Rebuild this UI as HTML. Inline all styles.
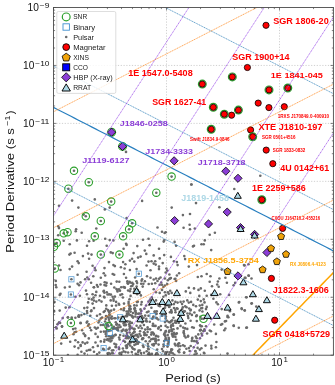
<!DOCTYPE html>
<html><head><meta charset="utf-8"><style>
html,body{margin:0;padding:0;background:#fff;overflow:hidden}
svg{display:block;will-change:transform}
text{font-family:"Liberation Sans", sans-serif}
</style></head><body>
<svg width="335" height="385" viewBox="0 0 335 385">
<defs><clipPath id="ax"><rect x="53.5" y="7.5" width="279.90" height="347.70"/></clipPath></defs>
<rect x="0" y="0" width="335" height="385" fill="#fff"/>
<g clip-path="url(#ax)">
<path d="M166.50,7.5 L166.50,355.2 M279.50,7.5 L279.50,355.2 M53.5,65.45 L333.4,65.45 M53.5,123.40 L333.4,123.40 M53.5,181.35 L333.4,181.35 M53.5,239.30 L333.4,239.30 M53.5,297.25 L333.4,297.25" stroke="#b0b0b0" stroke-width="0.6" stroke-dasharray="1.2 1.6" fill="none"/>
<g fill="#6a6a6a">
<circle cx="88.8" cy="182.2" r="1.3"/>
<circle cx="68.4" cy="188.7" r="1.3"/>
<circle cx="85.8" cy="216.3" r="1.3"/>
<circle cx="100.8" cy="221.0" r="1.3"/>
<circle cx="72.1" cy="200.6" r="1.3"/>
<circle cx="94.8" cy="199.4" r="1.3"/>
<circle cx="59.0" cy="205.7" r="1.3"/>
<circle cx="78.4" cy="207.6" r="1.3"/>
<circle cx="83.6" cy="214.6" r="1.3"/>
<circle cx="58.2" cy="226.3" r="1.3"/>
<circle cx="59.0" cy="228.1" r="1.3"/>
<circle cx="76.1" cy="229.3" r="1.3"/>
<circle cx="96.3" cy="228.5" r="1.3"/>
<circle cx="111.2" cy="201.6" r="1.3"/>
<circle cx="132.1" cy="223.3" r="1.3"/>
<circle cx="129.1" cy="229.3" r="1.3"/>
<circle cx="109.7" cy="207.6" r="1.3"/>
<circle cx="104.8" cy="209.4" r="1.3"/>
<circle cx="142.1" cy="200.9" r="1.3"/>
<circle cx="126.6" cy="218.1" r="1.3"/>
<circle cx="156.3" cy="192.7" r="1.3"/>
<circle cx="191.5" cy="184.5" r="1.3"/>
<circle cx="196.0" cy="203.1" r="1.3"/>
<circle cx="171.7" cy="207.6" r="1.3"/>
<circle cx="182.9" cy="215.1" r="1.3"/>
<circle cx="190.0" cy="214.0" r="1.3"/>
<circle cx="157.5" cy="227.5" r="1.3"/>
<circle cx="183.6" cy="227.8" r="1.3"/>
<circle cx="189.6" cy="224.8" r="1.3"/>
<circle cx="190.0" cy="229.3" r="1.3"/>
<circle cx="194.8" cy="228.5" r="1.3"/>
<circle cx="234.3" cy="189.0" r="1.3"/>
<circle cx="219.4" cy="207.2" r="1.3"/>
<circle cx="63.7" cy="233.3" r="1.3"/>
<circle cx="67.5" cy="232.2" r="1.3"/>
<circle cx="94.8" cy="236.3" r="1.3"/>
<circle cx="56.7" cy="243.1" r="1.3"/>
<circle cx="100.8" cy="254.6" r="1.3"/>
<circle cx="54.8" cy="268.5" r="1.3"/>
<circle cx="71.4" cy="279.3" r="1.3"/>
<circle cx="75.7" cy="231.2" r="1.3"/>
<circle cx="81.7" cy="232.7" r="1.3"/>
<circle cx="58.2" cy="235.2" r="1.3"/>
<circle cx="63.7" cy="240.7" r="1.3"/>
<circle cx="69.7" cy="244.2" r="1.3"/>
<circle cx="76.9" cy="240.4" r="1.3"/>
<circle cx="89.1" cy="241.2" r="1.3"/>
<circle cx="93.6" cy="240.7" r="1.3"/>
<circle cx="87.0" cy="245.7" r="1.3"/>
<circle cx="54.8" cy="244.2" r="1.3"/>
<circle cx="70.6" cy="253.6" r="1.3"/>
<circle cx="69.4" cy="254.6" r="1.3"/>
<circle cx="74.6" cy="252.7" r="1.3"/>
<circle cx="88.1" cy="253.6" r="1.3"/>
<circle cx="91.5" cy="254.6" r="1.3"/>
<circle cx="82.9" cy="256.1" r="1.3"/>
<circle cx="89.1" cy="258.7" r="1.3"/>
<circle cx="77.6" cy="261.3" r="1.3"/>
<circle cx="78.7" cy="263.1" r="1.3"/>
<circle cx="72.1" cy="266.6" r="1.3"/>
<circle cx="59.0" cy="265.5" r="1.3"/>
<circle cx="60.5" cy="270.0" r="1.3"/>
<circle cx="69.7" cy="269.1" r="1.3"/>
<circle cx="92.6" cy="265.8" r="1.3"/>
<circle cx="94.8" cy="268.1" r="1.3"/>
<circle cx="95.5" cy="270.3" r="1.3"/>
<circle cx="86.6" cy="271.8" r="1.3"/>
<circle cx="77.6" cy="274.8" r="1.3"/>
<circle cx="87.3" cy="277.5" r="1.3"/>
<circle cx="93.3" cy="276.3" r="1.3"/>
<circle cx="100.8" cy="277.8" r="1.3"/>
<circle cx="85.1" cy="279.3" r="1.3"/>
<circle cx="88.8" cy="279.3" r="1.3"/>
<circle cx="123.1" cy="236.3" r="1.3"/>
<circle cx="119.4" cy="254.6" r="1.3"/>
<circle cx="138.8" cy="273.7" r="1.3"/>
<circle cx="105.2" cy="238.7" r="1.3"/>
<circle cx="109.7" cy="240.1" r="1.3"/>
<circle cx="113.4" cy="240.4" r="1.3"/>
<circle cx="126.1" cy="243.7" r="1.3"/>
<circle cx="126.6" cy="244.9" r="1.3"/>
<circle cx="143.0" cy="239.7" r="1.3"/>
<circle cx="148.5" cy="238.7" r="1.3"/>
<circle cx="106.7" cy="245.7" r="1.3"/>
<circle cx="123.6" cy="248.7" r="1.3"/>
<circle cx="137.3" cy="246.1" r="1.3"/>
<circle cx="149.6" cy="245.2" r="1.3"/>
<circle cx="144.8" cy="250.6" r="1.3"/>
<circle cx="110.8" cy="252.4" r="1.3"/>
<circle cx="112.7" cy="253.1" r="1.3"/>
<circle cx="133.6" cy="253.1" r="1.3"/>
<circle cx="146.3" cy="253.9" r="1.3"/>
<circle cx="140.6" cy="256.6" r="1.3"/>
<circle cx="138.1" cy="257.6" r="1.3"/>
<circle cx="132.1" cy="258.7" r="1.3"/>
<circle cx="129.9" cy="260.6" r="1.3"/>
<circle cx="134.3" cy="261.6" r="1.3"/>
<circle cx="109.0" cy="262.1" r="1.3"/>
<circle cx="123.1" cy="262.1" r="1.3"/>
<circle cx="125.4" cy="264.3" r="1.3"/>
<circle cx="148.5" cy="261.6" r="1.3"/>
<circle cx="151.5" cy="261.3" r="1.3"/>
<circle cx="113.4" cy="265.1" r="1.3"/>
<circle cx="114.9" cy="266.1" r="1.3"/>
<circle cx="120.9" cy="267.3" r="1.3"/>
<circle cx="124.6" cy="268.5" r="1.3"/>
<circle cx="104.5" cy="268.1" r="1.3"/>
<circle cx="129.9" cy="270.0" r="1.3"/>
<circle cx="136.6" cy="269.1" r="1.3"/>
<circle cx="146.6" cy="265.5" r="1.3"/>
<circle cx="150.5" cy="270.3" r="1.3"/>
<circle cx="103.7" cy="273.3" r="1.3"/>
<circle cx="105.2" cy="275.5" r="1.3"/>
<circle cx="112.7" cy="274.0" r="1.3"/>
<circle cx="114.2" cy="274.8" r="1.3"/>
<circle cx="123.9" cy="274.0" r="1.3"/>
<circle cx="126.1" cy="277.8" r="1.3"/>
<circle cx="135.1" cy="277.5" r="1.3"/>
<circle cx="147.0" cy="276.3" r="1.3"/>
<circle cx="150.5" cy="277.8" r="1.3"/>
<circle cx="142.1" cy="279.3" r="1.3"/>
<circle cx="162.0" cy="231.8" r="1.3"/>
<circle cx="165.7" cy="232.2" r="1.3"/>
<circle cx="164.6" cy="233.0" r="1.3"/>
<circle cx="164.2" cy="240.4" r="1.3"/>
<circle cx="163.7" cy="241.6" r="1.3"/>
<circle cx="174.6" cy="241.9" r="1.3"/>
<circle cx="176.1" cy="245.7" r="1.3"/>
<circle cx="159.0" cy="248.7" r="1.3"/>
<circle cx="194.0" cy="245.7" r="1.3"/>
<circle cx="193.0" cy="246.4" r="1.3"/>
<circle cx="201.5" cy="244.2" r="1.3"/>
<circle cx="153.7" cy="255.4" r="1.3"/>
<circle cx="164.2" cy="255.1" r="1.3"/>
<circle cx="170.9" cy="256.9" r="1.3"/>
<circle cx="184.3" cy="256.1" r="1.3"/>
<circle cx="185.1" cy="259.1" r="1.3"/>
<circle cx="159.7" cy="258.4" r="1.3"/>
<circle cx="173.9" cy="261.3" r="1.3"/>
<circle cx="176.9" cy="262.1" r="1.3"/>
<circle cx="177.6" cy="265.1" r="1.3"/>
<circle cx="155.2" cy="261.3" r="1.3"/>
<circle cx="153.7" cy="263.6" r="1.3"/>
<circle cx="155.7" cy="264.6" r="1.3"/>
<circle cx="159.0" cy="266.6" r="1.3"/>
<circle cx="162.7" cy="263.1" r="1.3"/>
<circle cx="159.0" cy="269.1" r="1.3"/>
<circle cx="166.4" cy="268.5" r="1.3"/>
<circle cx="167.2" cy="270.6" r="1.3"/>
<circle cx="165.7" cy="272.5" r="1.3"/>
<circle cx="169.4" cy="274.5" r="1.3"/>
<circle cx="179.1" cy="273.3" r="1.3"/>
<circle cx="176.9" cy="275.5" r="1.3"/>
<circle cx="156.0" cy="278.5" r="1.3"/>
<circle cx="160.5" cy="277.5" r="1.3"/>
<circle cx="164.9" cy="278.5" r="1.3"/>
<circle cx="170.2" cy="278.5" r="1.3"/>
<circle cx="174.6" cy="279.0" r="1.3"/>
<circle cx="188.8" cy="266.6" r="1.3"/>
<circle cx="197.0" cy="265.1" r="1.3"/>
<circle cx="197.8" cy="277.0" r="1.3"/>
<circle cx="201.5" cy="276.3" r="1.3"/>
<circle cx="209.7" cy="234.8" r="1.3"/>
<circle cx="214.9" cy="232.7" r="1.3"/>
<circle cx="204.8" cy="240.4" r="1.3"/>
<circle cx="203.7" cy="244.2" r="1.3"/>
<circle cx="211.2" cy="250.1" r="1.3"/>
<circle cx="221.7" cy="269.6" r="1.3"/>
<circle cx="244.0" cy="265.1" r="1.3"/>
<circle cx="248.5" cy="264.3" r="1.3"/>
<circle cx="206.7" cy="274.0" r="1.3"/>
<circle cx="210.5" cy="276.3" r="1.3"/>
<circle cx="225.4" cy="277.8" r="1.3"/>
<circle cx="219.4" cy="278.5" r="1.3"/>
<circle cx="244.8" cy="277.8" r="1.3"/>
<circle cx="248.5" cy="275.5" r="1.3"/>
<circle cx="251.5" cy="278.5" r="1.3"/>
<circle cx="70.9" cy="323.0" r="1.3"/>
<circle cx="70.9" cy="294.5" r="1.3"/>
<circle cx="56.3" cy="287.2" r="1.3"/>
<circle cx="64.9" cy="287.5" r="1.3"/>
<circle cx="69.7" cy="286.7" r="1.3"/>
<circle cx="77.6" cy="283.7" r="1.3"/>
<circle cx="79.1" cy="285.2" r="1.3"/>
<circle cx="91.1" cy="282.7" r="1.3"/>
<circle cx="94.0" cy="287.2" r="1.3"/>
<circle cx="97.8" cy="286.7" r="1.3"/>
<circle cx="100.5" cy="284.5" r="1.3"/>
<circle cx="60.5" cy="293.7" r="1.3"/>
<circle cx="59.7" cy="294.9" r="1.3"/>
<circle cx="79.9" cy="295.7" r="1.3"/>
<circle cx="75.4" cy="296.7" r="1.3"/>
<circle cx="87.0" cy="294.2" r="1.3"/>
<circle cx="92.6" cy="294.2" r="1.3"/>
<circle cx="96.3" cy="291.9" r="1.3"/>
<circle cx="95.5" cy="295.2" r="1.3"/>
<circle cx="100.0" cy="295.7" r="1.3"/>
<circle cx="54.5" cy="302.1" r="1.3"/>
<circle cx="88.8" cy="298.7" r="1.3"/>
<circle cx="91.8" cy="299.4" r="1.3"/>
<circle cx="93.6" cy="297.6" r="1.3"/>
<circle cx="88.1" cy="302.4" r="1.3"/>
<circle cx="92.6" cy="303.6" r="1.3"/>
<circle cx="96.3" cy="301.6" r="1.3"/>
<circle cx="101.5" cy="301.6" r="1.3"/>
<circle cx="65.7" cy="307.6" r="1.3"/>
<circle cx="69.4" cy="307.2" r="1.3"/>
<circle cx="59.7" cy="310.6" r="1.3"/>
<circle cx="54.2" cy="311.3" r="1.3"/>
<circle cx="84.3" cy="308.1" r="1.3"/>
<circle cx="87.3" cy="307.6" r="1.3"/>
<circle cx="87.0" cy="311.0" r="1.3"/>
<circle cx="91.1" cy="311.3" r="1.3"/>
<circle cx="94.0" cy="308.1" r="1.3"/>
<circle cx="81.4" cy="315.1" r="1.3"/>
<circle cx="78.4" cy="316.6" r="1.3"/>
<circle cx="84.3" cy="314.0" r="1.3"/>
<circle cx="90.3" cy="315.8" r="1.3"/>
<circle cx="97.0" cy="315.8" r="1.3"/>
<circle cx="100.0" cy="314.3" r="1.3"/>
<circle cx="67.9" cy="317.3" r="1.3"/>
<circle cx="71.7" cy="318.8" r="1.3"/>
<circle cx="62.7" cy="318.1" r="1.3"/>
<circle cx="59.0" cy="322.5" r="1.3"/>
<circle cx="62.0" cy="326.6" r="1.3"/>
<circle cx="56.7" cy="328.5" r="1.3"/>
<circle cx="80.6" cy="323.3" r="1.3"/>
<circle cx="87.3" cy="321.5" r="1.3"/>
<circle cx="98.5" cy="322.5" r="1.3"/>
<circle cx="100.8" cy="318.5" r="1.3"/>
<circle cx="90.0" cy="327.8" r="1.3"/>
<circle cx="94.8" cy="327.5" r="1.3"/>
<circle cx="97.8" cy="327.8" r="1.3"/>
<circle cx="75.4" cy="328.5" r="1.3"/>
<circle cx="126.0" cy="151.9" r="1.3"/>
<circle cx="191.3" cy="184.5" r="1.3"/>
<circle cx="260.3" cy="175.7" r="1.3"/>
<circle cx="74.0" cy="170.8" r="1.3"/>
<circle cx="171.6" cy="176.6" r="1.3"/>
<circle cx="209.7" cy="281.8" r="1.3"/>
<circle cx="217.9" cy="281.5" r="1.3"/>
<circle cx="217.2" cy="284.5" r="1.3"/>
<circle cx="218.7" cy="286.7" r="1.3"/>
<circle cx="212.0" cy="286.3" r="1.3"/>
<circle cx="226.9" cy="282.7" r="1.3"/>
<circle cx="233.6" cy="285.2" r="1.3"/>
<circle cx="204.8" cy="290.7" r="1.3"/>
<circle cx="211.2" cy="294.9" r="1.3"/>
<circle cx="213.4" cy="298.7" r="1.3"/>
<circle cx="206.7" cy="295.7" r="1.3"/>
<circle cx="203.7" cy="299.4" r="1.3"/>
<circle cx="220.2" cy="294.2" r="1.3"/>
<circle cx="229.1" cy="294.9" r="1.3"/>
<circle cx="246.3" cy="297.2" r="1.3"/>
<circle cx="204.5" cy="302.4" r="1.3"/>
<circle cx="216.4" cy="302.4" r="1.3"/>
<circle cx="217.9" cy="304.2" r="1.3"/>
<circle cx="238.8" cy="302.4" r="1.3"/>
<circle cx="251.5" cy="303.6" r="1.3"/>
<circle cx="206.7" cy="306.9" r="1.3"/>
<circle cx="206.0" cy="309.1" r="1.3"/>
<circle cx="221.7" cy="309.1" r="1.3"/>
<circle cx="229.9" cy="311.3" r="1.3"/>
<circle cx="241.8" cy="309.1" r="1.3"/>
<circle cx="244.8" cy="310.6" r="1.3"/>
<circle cx="227.6" cy="315.8" r="1.3"/>
<circle cx="228.4" cy="317.3" r="1.3"/>
<circle cx="233.6" cy="314.6" r="1.3"/>
<circle cx="211.2" cy="318.8" r="1.3"/>
<circle cx="214.2" cy="324.5" r="1.3"/>
<circle cx="220.9" cy="324.8" r="1.3"/>
<circle cx="226.1" cy="321.0" r="1.3"/>
<circle cx="225.4" cy="328.5" r="1.3"/>
<circle cx="233.6" cy="325.5" r="1.3"/>
<circle cx="238.8" cy="327.8" r="1.3"/>
<circle cx="246.3" cy="327.8" r="1.3"/>
<circle cx="206.0" cy="326.3" r="1.3"/>
<circle cx="67.9" cy="317.5" r="1.3"/>
<circle cx="71.7" cy="317.5" r="1.3"/>
<circle cx="75.4" cy="317.8" r="1.3"/>
<circle cx="79.1" cy="316.7" r="1.3"/>
<circle cx="59.0" cy="322.7" r="1.3"/>
<circle cx="57.5" cy="324.2" r="1.3"/>
<circle cx="56.0" cy="327.2" r="1.3"/>
<circle cx="62.0" cy="326.4" r="1.3"/>
<circle cx="80.6" cy="322.7" r="1.3"/>
<circle cx="73.1" cy="329.1" r="1.3"/>
<circle cx="76.1" cy="331.7" r="1.3"/>
<circle cx="82.1" cy="330.2" r="1.3"/>
<circle cx="88.1" cy="325.7" r="1.3"/>
<circle cx="91.1" cy="330.2" r="1.3"/>
<circle cx="96.3" cy="328.7" r="1.3"/>
<circle cx="100.8" cy="325.0" r="1.3"/>
<circle cx="83.6" cy="333.6" r="1.3"/>
<circle cx="85.1" cy="336.1" r="1.3"/>
<circle cx="88.8" cy="338.4" r="1.3"/>
<circle cx="97.8" cy="336.9" r="1.3"/>
<circle cx="100.8" cy="331.7" r="1.3"/>
<circle cx="95.5" cy="333.9" r="1.3"/>
<circle cx="70.2" cy="341.7" r="1.3"/>
<circle cx="75.4" cy="340.2" r="1.3"/>
<circle cx="87.3" cy="342.6" r="1.3"/>
<circle cx="100.8" cy="341.4" r="1.3"/>
<circle cx="61.2" cy="343.6" r="1.3"/>
<circle cx="80.6" cy="345.1" r="1.3"/>
<circle cx="85.1" cy="343.6" r="1.3"/>
<circle cx="74.6" cy="346.6" r="1.3"/>
<circle cx="78.4" cy="348.1" r="1.3"/>
<circle cx="93.0" cy="347.3" r="1.3"/>
<circle cx="97.8" cy="345.9" r="1.3"/>
<circle cx="88.8" cy="350.0" r="1.3"/>
<circle cx="81.4" cy="351.8" r="1.3"/>
<circle cx="94.0" cy="351.8" r="1.3"/>
<circle cx="99.3" cy="352.6" r="1.3"/>
<circle cx="77.6" cy="354.8" r="1.3"/>
<circle cx="67.9" cy="355.1" r="1.3"/>
<circle cx="227.5" cy="316.9" r="1.3"/>
<circle cx="222.2" cy="324.1" r="1.3"/>
<circle cx="224.9" cy="321.4" r="1.3"/>
<circle cx="233.8" cy="325.9" r="1.3"/>
<circle cx="246.9" cy="327.6" r="1.3"/>
<circle cx="224.3" cy="330.3" r="1.3"/>
<circle cx="215.9" cy="333.9" r="1.3"/>
<circle cx="216.4" cy="342.0" r="1.3"/>
<circle cx="215.9" cy="347.3" r="1.3"/>
<circle cx="227.5" cy="353.6" r="1.3"/>
<circle cx="244.6" cy="265.4" r="1.3"/>
<circle cx="248.8" cy="275.8" r="1.3"/>
<circle cx="245.5" cy="277.9" r="1.3"/>
<circle cx="235.1" cy="282.9" r="1.3"/>
<circle cx="246.4" cy="297.3" r="1.3"/>
<circle cx="239.3" cy="302.1" r="1.3"/>
<circle cx="251.8" cy="303.3" r="1.3"/>
<circle cx="256.3" cy="306.6" r="1.3"/>
<circle cx="241.6" cy="308.4" r="1.3"/>
<circle cx="244.6" cy="310.2" r="1.3"/>
<circle cx="233.9" cy="314.6" r="1.3"/>
<circle cx="108.4" cy="326.1" r="1.3"/>
<circle cx="203.5" cy="318.8" r="1.3"/>
<circle cx="153.7" cy="279.5" r="1.3"/>
<circle cx="155.2" cy="283.2" r="1.3"/>
<circle cx="157.5" cy="281.0" r="1.3"/>
<circle cx="159.0" cy="278.7" r="1.3"/>
<circle cx="159.7" cy="284.7" r="1.3"/>
<circle cx="161.2" cy="282.5" r="1.3"/>
<circle cx="162.0" cy="284.7" r="1.3"/>
<circle cx="163.4" cy="287.0" r="1.3"/>
<circle cx="164.9" cy="285.5" r="1.3"/>
<circle cx="167.2" cy="284.0" r="1.3"/>
<circle cx="167.9" cy="280.2" r="1.3"/>
<circle cx="169.4" cy="278.7" r="1.3"/>
<circle cx="170.9" cy="278.0" r="1.3"/>
<circle cx="175.4" cy="278.7" r="1.3"/>
<circle cx="176.1" cy="281.0" r="1.3"/>
<circle cx="153.7" cy="289.2" r="1.3"/>
<circle cx="156.0" cy="292.2" r="1.3"/>
<circle cx="159.7" cy="292.9" r="1.3"/>
<circle cx="162.0" cy="289.9" r="1.3"/>
<circle cx="164.9" cy="292.2" r="1.3"/>
<circle cx="167.9" cy="292.2" r="1.3"/>
<circle cx="168.7" cy="293.7" r="1.3"/>
<circle cx="170.2" cy="290.7" r="1.3"/>
<circle cx="171.7" cy="292.9" r="1.3"/>
<circle cx="165.7" cy="295.2" r="1.3"/>
<circle cx="163.4" cy="296.7" r="1.3"/>
<circle cx="188.8" cy="287.7" r="1.3"/>
<circle cx="194.0" cy="288.4" r="1.3"/>
<circle cx="185.8" cy="291.4" r="1.3"/>
<circle cx="198.5" cy="289.9" r="1.3"/>
<circle cx="200.8" cy="288.4" r="1.3"/>
<circle cx="190.3" cy="292.9" r="1.3"/>
<circle cx="199.3" cy="295.9" r="1.3"/>
<circle cx="175.4" cy="301.9" r="1.3"/>
<circle cx="177.6" cy="302.6" r="1.3"/>
<circle cx="180.6" cy="301.9" r="1.3"/>
<circle cx="183.6" cy="301.6" r="1.3"/>
<circle cx="187.3" cy="300.4" r="1.3"/>
<circle cx="188.8" cy="302.6" r="1.3"/>
<circle cx="191.1" cy="301.9" r="1.3"/>
<circle cx="197.8" cy="299.6" r="1.3"/>
<circle cx="200.8" cy="301.1" r="1.3"/>
<circle cx="182.1" cy="304.1" r="1.3"/>
<circle cx="193.3" cy="304.9" r="1.3"/>
<circle cx="202.3" cy="304.9" r="1.3"/>
<circle cx="156.0" cy="300.4" r="1.3"/>
<circle cx="172.4" cy="300.4" r="1.3"/>
<circle cx="173.9" cy="304.1" r="1.3"/>
<circle cx="157.5" cy="304.1" r="1.3"/>
<circle cx="111.1" cy="283.8" r="1.3"/>
<circle cx="119.3" cy="281.8" r="1.3"/>
<circle cx="116.4" cy="289.1" r="1.3"/>
<circle cx="104.4" cy="292.7" r="1.3"/>
<circle cx="103.9" cy="290.8" r="1.3"/>
<circle cx="104.7" cy="282.3" r="1.3"/>
<circle cx="113.6" cy="300.7" r="1.3"/>
<circle cx="106.1" cy="285.6" r="1.3"/>
<circle cx="118.7" cy="303.7" r="1.3"/>
<circle cx="117.4" cy="289.9" r="1.3"/>
<circle cx="127.4" cy="281.2" r="1.3"/>
<circle cx="124.5" cy="287.2" r="1.3"/>
<circle cx="106.6" cy="282.9" r="1.3"/>
<circle cx="110.7" cy="300.4" r="1.3"/>
<circle cx="107.5" cy="294.5" r="1.3"/>
<circle cx="119.0" cy="289.3" r="1.3"/>
<circle cx="116.7" cy="281.6" r="1.3"/>
<circle cx="104.5" cy="285.1" r="1.3"/>
<circle cx="120.0" cy="290.7" r="1.3"/>
<circle cx="110.9" cy="294.6" r="1.3"/>
<circle cx="114.3" cy="287.5" r="1.3"/>
<circle cx="122.9" cy="297.5" r="1.3"/>
<circle cx="109.1" cy="294.4" r="1.3"/>
<circle cx="116.1" cy="301.9" r="1.3"/>
<circle cx="121.2" cy="287.2" r="1.3"/>
<circle cx="127.5" cy="283.0" r="1.3"/>
<circle cx="113.5" cy="298.9" r="1.3"/>
<circle cx="106.8" cy="292.2" r="1.3"/>
<circle cx="104.0" cy="296.7" r="1.3"/>
<circle cx="122.1" cy="294.3" r="1.3"/>
<circle cx="124.9" cy="287.8" r="1.3"/>
<circle cx="120.4" cy="294.9" r="1.3"/>
<circle cx="117.5" cy="291.4" r="1.3"/>
<circle cx="124.0" cy="303.6" r="1.3"/>
<circle cx="114.9" cy="296.6" r="1.3"/>
<circle cx="104.5" cy="297.5" r="1.3"/>
<circle cx="119.2" cy="304.8" r="1.3"/>
<circle cx="123.5" cy="287.1" r="1.3"/>
<circle cx="112.6" cy="296.7" r="1.3"/>
<circle cx="103.6" cy="291.5" r="1.3"/>
<circle cx="132.2" cy="282.9" r="1.3"/>
<circle cx="129.5" cy="299.2" r="1.3"/>
<circle cx="131.2" cy="286.2" r="1.3"/>
<circle cx="137.8" cy="301.8" r="1.3"/>
<circle cx="130.0" cy="291.2" r="1.3"/>
<circle cx="141.7" cy="302.1" r="1.3"/>
<circle cx="148.5" cy="301.6" r="1.3"/>
<circle cx="135.0" cy="290.4" r="1.3"/>
<circle cx="137.0" cy="302.1" r="1.3"/>
<circle cx="151.9" cy="283.8" r="1.3"/>
<circle cx="132.4" cy="285.8" r="1.3"/>
<circle cx="133.8" cy="292.1" r="1.3"/>
<circle cx="142.7" cy="286.6" r="1.3"/>
<circle cx="128.1" cy="290.5" r="1.3"/>
<circle cx="137.2" cy="294.2" r="1.3"/>
<circle cx="151.8" cy="297.3" r="1.3"/>
<circle cx="140.9" cy="295.4" r="1.3"/>
<circle cx="144.9" cy="281.3" r="1.3"/>
<circle cx="150.5" cy="299.5" r="1.3"/>
<circle cx="149.9" cy="299.9" r="1.3"/>
<circle cx="137.8" cy="290.0" r="1.3"/>
<circle cx="130.6" cy="295.9" r="1.3"/>
<circle cx="129.6" cy="281.7" r="1.3"/>
<circle cx="133.2" cy="284.1" r="1.3"/>
<circle cx="136.5" cy="281.3" r="1.3"/>
<circle cx="128.0" cy="283.8" r="1.3"/>
<circle cx="130.5" cy="289.1" r="1.3"/>
<circle cx="128.6" cy="301.9" r="1.3"/>
<circle cx="143.4" cy="283.7" r="1.3"/>
<circle cx="134.3" cy="288.7" r="1.3"/>
<circle cx="137.1" cy="283.1" r="1.3"/>
<circle cx="149.2" cy="304.8" r="1.3"/>
<circle cx="139.6" cy="292.1" r="1.3"/>
<circle cx="130.1" cy="282.6" r="1.3"/>
<circle cx="136.6" cy="286.6" r="1.3"/>
<circle cx="148.7" cy="284.0" r="1.3"/>
<circle cx="128.6" cy="303.8" r="1.3"/>
<circle cx="141.2" cy="283.7" r="1.3"/>
<circle cx="141.6" cy="280.7" r="1.3"/>
<circle cx="141.2" cy="304.5" r="1.3"/>
<circle cx="124.6" cy="322.4" r="1.3"/>
<circle cx="109.5" cy="314.2" r="1.3"/>
<circle cx="107.2" cy="324.3" r="1.3"/>
<circle cx="116.3" cy="324.5" r="1.3"/>
<circle cx="111.2" cy="310.6" r="1.3"/>
<circle cx="123.3" cy="329.6" r="1.3"/>
<circle cx="124.3" cy="325.2" r="1.3"/>
<circle cx="123.5" cy="323.5" r="1.3"/>
<circle cx="108.7" cy="317.9" r="1.3"/>
<circle cx="111.9" cy="305.7" r="1.3"/>
<circle cx="103.7" cy="312.0" r="1.3"/>
<circle cx="109.5" cy="322.3" r="1.3"/>
<circle cx="126.9" cy="316.2" r="1.3"/>
<circle cx="126.4" cy="329.7" r="1.3"/>
<circle cx="126.9" cy="314.1" r="1.3"/>
<circle cx="108.5" cy="310.7" r="1.3"/>
<circle cx="107.9" cy="310.1" r="1.3"/>
<circle cx="118.6" cy="327.5" r="1.3"/>
<circle cx="124.0" cy="317.0" r="1.3"/>
<circle cx="119.3" cy="325.0" r="1.3"/>
<circle cx="105.1" cy="321.5" r="1.3"/>
<circle cx="125.7" cy="324.6" r="1.3"/>
<circle cx="121.8" cy="317.0" r="1.3"/>
<circle cx="107.5" cy="324.7" r="1.3"/>
<circle cx="111.3" cy="325.0" r="1.3"/>
<circle cx="127.3" cy="314.9" r="1.3"/>
<circle cx="113.0" cy="328.7" r="1.3"/>
<circle cx="121.1" cy="309.3" r="1.3"/>
<circle cx="106.2" cy="308.8" r="1.3"/>
<circle cx="125.6" cy="325.2" r="1.3"/>
<circle cx="106.7" cy="325.7" r="1.3"/>
<circle cx="127.5" cy="321.4" r="1.3"/>
<circle cx="111.8" cy="318.7" r="1.3"/>
<circle cx="106.3" cy="305.4" r="1.3"/>
<circle cx="127.3" cy="321.2" r="1.3"/>
<circle cx="116.2" cy="328.3" r="1.3"/>
<circle cx="113.8" cy="326.8" r="1.3"/>
<circle cx="123.7" cy="310.3" r="1.3"/>
<circle cx="109.3" cy="312.3" r="1.3"/>
<circle cx="109.0" cy="319.7" r="1.3"/>
<circle cx="109.5" cy="315.5" r="1.3"/>
<circle cx="106.3" cy="327.8" r="1.3"/>
<circle cx="111.8" cy="316.5" r="1.3"/>
<circle cx="117.6" cy="327.6" r="1.3"/>
<circle cx="113.5" cy="327.9" r="1.3"/>
<circle cx="115.5" cy="318.3" r="1.3"/>
<circle cx="116.1" cy="305.5" r="1.3"/>
<circle cx="114.0" cy="309.6" r="1.3"/>
<circle cx="103.1" cy="325.0" r="1.3"/>
<circle cx="107.3" cy="316.8" r="1.3"/>
<circle cx="121.1" cy="318.9" r="1.3"/>
<circle cx="111.1" cy="318.0" r="1.3"/>
<circle cx="116.9" cy="324.6" r="1.3"/>
<circle cx="105.7" cy="319.0" r="1.3"/>
<circle cx="109.2" cy="311.9" r="1.3"/>
<circle cx="122.3" cy="317.7" r="1.3"/>
<circle cx="117.0" cy="324.0" r="1.3"/>
<circle cx="125.8" cy="316.1" r="1.3"/>
<circle cx="118.3" cy="317.6" r="1.3"/>
<circle cx="115.8" cy="322.3" r="1.3"/>
<circle cx="114.3" cy="318.3" r="1.3"/>
<circle cx="115.0" cy="328.5" r="1.3"/>
<circle cx="120.5" cy="326.9" r="1.3"/>
<circle cx="126.6" cy="311.5" r="1.3"/>
<circle cx="117.0" cy="328.6" r="1.3"/>
<circle cx="124.0" cy="308.4" r="1.3"/>
<circle cx="106.0" cy="316.1" r="1.3"/>
<circle cx="104.8" cy="311.0" r="1.3"/>
<circle cx="129.8" cy="321.7" r="1.3"/>
<circle cx="147.6" cy="327.4" r="1.3"/>
<circle cx="131.9" cy="322.9" r="1.3"/>
<circle cx="144.5" cy="308.6" r="1.3"/>
<circle cx="150.1" cy="329.2" r="1.3"/>
<circle cx="133.5" cy="328.8" r="1.3"/>
<circle cx="138.0" cy="317.2" r="1.3"/>
<circle cx="152.7" cy="325.8" r="1.3"/>
<circle cx="132.0" cy="315.8" r="1.3"/>
<circle cx="140.9" cy="313.5" r="1.3"/>
<circle cx="132.9" cy="313.0" r="1.3"/>
<circle cx="146.1" cy="305.5" r="1.3"/>
<circle cx="141.9" cy="316.0" r="1.3"/>
<circle cx="128.5" cy="313.3" r="1.3"/>
<circle cx="143.6" cy="317.8" r="1.3"/>
<circle cx="129.6" cy="329.6" r="1.3"/>
<circle cx="147.7" cy="329.3" r="1.3"/>
<circle cx="130.6" cy="311.6" r="1.3"/>
<circle cx="129.0" cy="324.5" r="1.3"/>
<circle cx="134.8" cy="308.2" r="1.3"/>
<circle cx="138.6" cy="327.8" r="1.3"/>
<circle cx="148.5" cy="311.5" r="1.3"/>
<circle cx="131.7" cy="328.0" r="1.3"/>
<circle cx="142.3" cy="322.5" r="1.3"/>
<circle cx="130.2" cy="306.4" r="1.3"/>
<circle cx="145.2" cy="315.6" r="1.3"/>
<circle cx="129.8" cy="328.5" r="1.3"/>
<circle cx="143.9" cy="325.0" r="1.3"/>
<circle cx="130.1" cy="326.4" r="1.3"/>
<circle cx="129.7" cy="326.6" r="1.3"/>
<circle cx="139.3" cy="313.5" r="1.3"/>
<circle cx="141.8" cy="328.2" r="1.3"/>
<circle cx="134.7" cy="308.2" r="1.3"/>
<circle cx="141.2" cy="311.0" r="1.3"/>
<circle cx="130.7" cy="309.0" r="1.3"/>
<circle cx="129.3" cy="310.0" r="1.3"/>
<circle cx="135.8" cy="312.6" r="1.3"/>
<circle cx="147.0" cy="312.2" r="1.3"/>
<circle cx="140.5" cy="309.4" r="1.3"/>
<circle cx="136.7" cy="305.5" r="1.3"/>
<circle cx="134.3" cy="305.4" r="1.3"/>
<circle cx="146.3" cy="318.8" r="1.3"/>
<circle cx="132.7" cy="316.9" r="1.3"/>
<circle cx="151.4" cy="307.7" r="1.3"/>
<circle cx="148.5" cy="315.8" r="1.3"/>
<circle cx="140.4" cy="325.9" r="1.3"/>
<circle cx="137.8" cy="317.7" r="1.3"/>
<circle cx="145.2" cy="329.6" r="1.3"/>
<circle cx="136.6" cy="325.8" r="1.3"/>
<circle cx="145.7" cy="320.9" r="1.3"/>
<circle cx="138.1" cy="313.7" r="1.3"/>
<circle cx="129.4" cy="308.2" r="1.3"/>
<circle cx="129.8" cy="323.5" r="1.3"/>
<circle cx="134.4" cy="309.1" r="1.3"/>
<circle cx="130.1" cy="326.0" r="1.3"/>
<circle cx="149.8" cy="321.8" r="1.3"/>
<circle cx="135.0" cy="311.1" r="1.3"/>
<circle cx="135.3" cy="316.5" r="1.3"/>
<circle cx="131.9" cy="316.1" r="1.3"/>
<circle cx="134.6" cy="329.0" r="1.3"/>
<circle cx="152.3" cy="318.7" r="1.3"/>
<circle cx="134.1" cy="329.1" r="1.3"/>
<circle cx="135.7" cy="313.9" r="1.3"/>
<circle cx="128.0" cy="314.5" r="1.3"/>
<circle cx="139.9" cy="317.6" r="1.3"/>
<circle cx="133.0" cy="317.6" r="1.3"/>
<circle cx="128.1" cy="311.6" r="1.3"/>
<circle cx="130.2" cy="315.0" r="1.3"/>
<circle cx="129.0" cy="305.6" r="1.3"/>
<circle cx="135.6" cy="310.8" r="1.3"/>
<circle cx="142.6" cy="318.2" r="1.3"/>
<circle cx="146.8" cy="321.4" r="1.3"/>
<circle cx="170.9" cy="327.0" r="1.3"/>
<circle cx="162.7" cy="313.2" r="1.3"/>
<circle cx="177.6" cy="308.7" r="1.3"/>
<circle cx="171.1" cy="321.1" r="1.3"/>
<circle cx="154.1" cy="325.9" r="1.3"/>
<circle cx="175.3" cy="320.7" r="1.3"/>
<circle cx="171.3" cy="325.3" r="1.3"/>
<circle cx="156.5" cy="318.1" r="1.3"/>
<circle cx="165.6" cy="325.9" r="1.3"/>
<circle cx="173.1" cy="325.7" r="1.3"/>
<circle cx="167.6" cy="327.3" r="1.3"/>
<circle cx="170.1" cy="322.3" r="1.3"/>
<circle cx="158.7" cy="305.8" r="1.3"/>
<circle cx="156.3" cy="314.0" r="1.3"/>
<circle cx="155.6" cy="325.9" r="1.3"/>
<circle cx="167.0" cy="320.7" r="1.3"/>
<circle cx="168.7" cy="322.0" r="1.3"/>
<circle cx="165.2" cy="305.1" r="1.3"/>
<circle cx="172.9" cy="323.7" r="1.3"/>
<circle cx="165.6" cy="318.4" r="1.3"/>
<circle cx="169.5" cy="306.7" r="1.3"/>
<circle cx="171.4" cy="311.3" r="1.3"/>
<circle cx="154.9" cy="311.6" r="1.3"/>
<circle cx="171.2" cy="310.1" r="1.3"/>
<circle cx="171.5" cy="329.4" r="1.3"/>
<circle cx="165.3" cy="314.6" r="1.3"/>
<circle cx="165.0" cy="322.1" r="1.3"/>
<circle cx="172.2" cy="320.4" r="1.3"/>
<circle cx="169.1" cy="306.9" r="1.3"/>
<circle cx="156.7" cy="311.3" r="1.3"/>
<circle cx="171.6" cy="312.6" r="1.3"/>
<circle cx="167.2" cy="305.3" r="1.3"/>
<circle cx="154.5" cy="311.7" r="1.3"/>
<circle cx="169.8" cy="322.3" r="1.3"/>
<circle cx="169.9" cy="312.3" r="1.3"/>
<circle cx="165.9" cy="316.6" r="1.3"/>
<circle cx="164.7" cy="308.0" r="1.3"/>
<circle cx="175.3" cy="310.0" r="1.3"/>
<circle cx="177.5" cy="328.4" r="1.3"/>
<circle cx="153.4" cy="316.5" r="1.3"/>
<circle cx="173.5" cy="329.2" r="1.3"/>
<circle cx="164.2" cy="311.7" r="1.3"/>
<circle cx="158.2" cy="328.6" r="1.3"/>
<circle cx="158.3" cy="319.5" r="1.3"/>
<circle cx="156.5" cy="318.1" r="1.3"/>
<circle cx="176.8" cy="308.3" r="1.3"/>
<circle cx="173.5" cy="317.7" r="1.3"/>
<circle cx="175.2" cy="322.6" r="1.3"/>
<circle cx="158.8" cy="327.4" r="1.3"/>
<circle cx="165.2" cy="305.6" r="1.3"/>
<circle cx="153.1" cy="317.3" r="1.3"/>
<circle cx="164.3" cy="312.5" r="1.3"/>
<circle cx="156.5" cy="313.6" r="1.3"/>
<circle cx="160.9" cy="326.0" r="1.3"/>
<circle cx="153.0" cy="323.8" r="1.3"/>
<circle cx="174.0" cy="308.0" r="1.3"/>
<circle cx="176.2" cy="322.8" r="1.3"/>
<circle cx="175.5" cy="312.2" r="1.3"/>
<circle cx="162.3" cy="314.8" r="1.3"/>
<circle cx="178.0" cy="319.7" r="1.3"/>
<circle cx="162.0" cy="315.7" r="1.3"/>
<circle cx="159.9" cy="306.2" r="1.3"/>
<circle cx="180.5" cy="325.9" r="1.3"/>
<circle cx="185.1" cy="328.4" r="1.3"/>
<circle cx="184.2" cy="311.6" r="1.3"/>
<circle cx="190.8" cy="309.7" r="1.3"/>
<circle cx="187.3" cy="328.9" r="1.3"/>
<circle cx="200.1" cy="325.3" r="1.3"/>
<circle cx="193.8" cy="327.8" r="1.3"/>
<circle cx="201.5" cy="318.7" r="1.3"/>
<circle cx="196.0" cy="306.2" r="1.3"/>
<circle cx="196.3" cy="316.3" r="1.3"/>
<circle cx="196.8" cy="321.1" r="1.3"/>
<circle cx="185.2" cy="306.2" r="1.3"/>
<circle cx="201.2" cy="308.2" r="1.3"/>
<circle cx="189.8" cy="313.6" r="1.3"/>
<circle cx="185.4" cy="323.5" r="1.3"/>
<circle cx="202.4" cy="311.5" r="1.3"/>
<circle cx="194.4" cy="312.5" r="1.3"/>
<circle cx="191.9" cy="314.9" r="1.3"/>
<circle cx="182.2" cy="309.0" r="1.3"/>
<circle cx="183.2" cy="327.6" r="1.3"/>
<circle cx="190.4" cy="310.5" r="1.3"/>
<circle cx="200.7" cy="329.9" r="1.3"/>
<circle cx="189.2" cy="308.5" r="1.3"/>
<circle cx="182.8" cy="307.3" r="1.3"/>
<circle cx="186.5" cy="307.3" r="1.3"/>
<circle cx="184.0" cy="311.5" r="1.3"/>
<circle cx="192.2" cy="327.2" r="1.3"/>
<circle cx="196.7" cy="315.3" r="1.3"/>
<circle cx="188.3" cy="318.1" r="1.3"/>
<circle cx="187.4" cy="313.5" r="1.3"/>
<circle cx="179.6" cy="311.9" r="1.3"/>
<circle cx="202.2" cy="308.1" r="1.3"/>
<circle cx="190.6" cy="320.7" r="1.3"/>
<circle cx="199.6" cy="310.4" r="1.3"/>
<circle cx="184.8" cy="311.2" r="1.3"/>
<circle cx="188.0" cy="316.1" r="1.3"/>
<circle cx="201.8" cy="326.2" r="1.3"/>
<circle cx="199.8" cy="305.5" r="1.3"/>
<circle cx="178.8" cy="322.7" r="1.3"/>
<circle cx="200.4" cy="316.8" r="1.3"/>
<circle cx="117.7" cy="330.0" r="1.3"/>
<circle cx="112.8" cy="353.2" r="1.3"/>
<circle cx="123.6" cy="351.4" r="1.3"/>
<circle cx="127.3" cy="336.2" r="1.3"/>
<circle cx="105.7" cy="333.9" r="1.3"/>
<circle cx="116.1" cy="347.1" r="1.3"/>
<circle cx="126.5" cy="348.0" r="1.3"/>
<circle cx="119.2" cy="349.1" r="1.3"/>
<circle cx="114.4" cy="343.8" r="1.3"/>
<circle cx="104.0" cy="349.6" r="1.3"/>
<circle cx="108.8" cy="353.0" r="1.3"/>
<circle cx="119.1" cy="337.6" r="1.3"/>
<circle cx="106.2" cy="336.3" r="1.3"/>
<circle cx="118.9" cy="347.5" r="1.3"/>
<circle cx="105.8" cy="331.8" r="1.3"/>
<circle cx="116.1" cy="344.6" r="1.3"/>
<circle cx="112.7" cy="335.6" r="1.3"/>
<circle cx="118.0" cy="330.3" r="1.3"/>
<circle cx="110.5" cy="341.5" r="1.3"/>
<circle cx="127.0" cy="346.1" r="1.3"/>
<circle cx="125.1" cy="341.9" r="1.3"/>
<circle cx="108.9" cy="336.2" r="1.3"/>
<circle cx="127.0" cy="347.6" r="1.3"/>
<circle cx="110.7" cy="330.5" r="1.3"/>
<circle cx="115.5" cy="346.9" r="1.3"/>
<circle cx="113.5" cy="336.4" r="1.3"/>
<circle cx="119.7" cy="353.1" r="1.3"/>
<circle cx="108.7" cy="330.9" r="1.3"/>
<circle cx="111.5" cy="340.5" r="1.3"/>
<circle cx="120.1" cy="335.0" r="1.3"/>
<circle cx="122.9" cy="348.5" r="1.3"/>
<circle cx="115.6" cy="335.1" r="1.3"/>
<circle cx="127.2" cy="337.8" r="1.3"/>
<circle cx="123.5" cy="335.8" r="1.3"/>
<circle cx="108.5" cy="349.0" r="1.3"/>
<circle cx="110.4" cy="353.8" r="1.3"/>
<circle cx="115.4" cy="334.7" r="1.3"/>
<circle cx="108.6" cy="340.4" r="1.3"/>
<circle cx="119.6" cy="353.7" r="1.3"/>
<circle cx="106.7" cy="339.8" r="1.3"/>
<circle cx="108.3" cy="354.4" r="1.3"/>
<circle cx="106.5" cy="331.3" r="1.3"/>
<circle cx="104.5" cy="339.8" r="1.3"/>
<circle cx="125.5" cy="352.1" r="1.3"/>
<circle cx="121.3" cy="354.9" r="1.3"/>
<circle cx="126.3" cy="338.2" r="1.3"/>
<circle cx="107.6" cy="353.4" r="1.3"/>
<circle cx="121.7" cy="330.8" r="1.3"/>
<circle cx="119.6" cy="339.5" r="1.3"/>
<circle cx="112.3" cy="338.3" r="1.3"/>
<circle cx="107.2" cy="330.1" r="1.3"/>
<circle cx="110.0" cy="338.8" r="1.3"/>
<circle cx="126.9" cy="333.1" r="1.3"/>
<circle cx="127.1" cy="335.2" r="1.3"/>
<circle cx="111.9" cy="350.5" r="1.3"/>
<circle cx="123.6" cy="340.8" r="1.3"/>
<circle cx="104.2" cy="341.8" r="1.3"/>
<circle cx="112.3" cy="353.0" r="1.3"/>
<circle cx="107.8" cy="339.1" r="1.3"/>
<circle cx="125.4" cy="330.8" r="1.3"/>
<circle cx="113.3" cy="350.3" r="1.3"/>
<circle cx="122.2" cy="331.0" r="1.3"/>
<circle cx="103.9" cy="331.6" r="1.3"/>
<circle cx="126.0" cy="336.4" r="1.3"/>
<circle cx="121.7" cy="352.5" r="1.3"/>
<circle cx="111.5" cy="336.8" r="1.3"/>
<circle cx="126.9" cy="345.4" r="1.3"/>
<circle cx="109.6" cy="347.9" r="1.3"/>
<circle cx="110.9" cy="336.9" r="1.3"/>
<circle cx="103.1" cy="348.9" r="1.3"/>
<circle cx="125.9" cy="345.8" r="1.3"/>
<circle cx="126.6" cy="330.6" r="1.3"/>
<circle cx="133.8" cy="341.9" r="1.3"/>
<circle cx="151.9" cy="353.8" r="1.3"/>
<circle cx="137.7" cy="336.3" r="1.3"/>
<circle cx="138.7" cy="342.3" r="1.3"/>
<circle cx="151.2" cy="334.6" r="1.3"/>
<circle cx="148.1" cy="348.5" r="1.3"/>
<circle cx="148.6" cy="349.3" r="1.3"/>
<circle cx="143.2" cy="338.2" r="1.3"/>
<circle cx="136.0" cy="339.0" r="1.3"/>
<circle cx="147.6" cy="332.0" r="1.3"/>
<circle cx="132.9" cy="348.8" r="1.3"/>
<circle cx="134.2" cy="331.6" r="1.3"/>
<circle cx="128.8" cy="343.8" r="1.3"/>
<circle cx="136.1" cy="354.5" r="1.3"/>
<circle cx="150.1" cy="354.7" r="1.3"/>
<circle cx="134.6" cy="332.1" r="1.3"/>
<circle cx="130.4" cy="342.5" r="1.3"/>
<circle cx="145.7" cy="341.2" r="1.3"/>
<circle cx="133.9" cy="340.4" r="1.3"/>
<circle cx="143.5" cy="346.9" r="1.3"/>
<circle cx="146.7" cy="351.2" r="1.3"/>
<circle cx="144.6" cy="333.0" r="1.3"/>
<circle cx="149.0" cy="337.3" r="1.3"/>
<circle cx="142.2" cy="339.3" r="1.3"/>
<circle cx="146.5" cy="335.0" r="1.3"/>
<circle cx="134.2" cy="336.1" r="1.3"/>
<circle cx="131.8" cy="352.1" r="1.3"/>
<circle cx="142.5" cy="338.2" r="1.3"/>
<circle cx="137.9" cy="354.8" r="1.3"/>
<circle cx="140.7" cy="335.8" r="1.3"/>
<circle cx="148.2" cy="346.3" r="1.3"/>
<circle cx="152.8" cy="332.6" r="1.3"/>
<circle cx="139.9" cy="350.5" r="1.3"/>
<circle cx="149.0" cy="352.9" r="1.3"/>
<circle cx="129.0" cy="337.3" r="1.3"/>
<circle cx="131.0" cy="334.7" r="1.3"/>
<circle cx="152.3" cy="344.6" r="1.3"/>
<circle cx="151.3" cy="339.3" r="1.3"/>
<circle cx="149.7" cy="341.2" r="1.3"/>
<circle cx="134.5" cy="349.4" r="1.3"/>
<circle cx="151.6" cy="332.6" r="1.3"/>
<circle cx="142.9" cy="345.5" r="1.3"/>
<circle cx="133.4" cy="339.2" r="1.3"/>
<circle cx="131.5" cy="335.1" r="1.3"/>
<circle cx="134.4" cy="345.0" r="1.3"/>
<circle cx="144.3" cy="335.1" r="1.3"/>
<circle cx="128.3" cy="338.2" r="1.3"/>
<circle cx="145.0" cy="334.6" r="1.3"/>
<circle cx="135.8" cy="335.1" r="1.3"/>
<circle cx="147.9" cy="343.7" r="1.3"/>
<circle cx="129.6" cy="332.5" r="1.3"/>
<circle cx="137.9" cy="343.8" r="1.3"/>
<circle cx="144.0" cy="332.3" r="1.3"/>
<circle cx="132.1" cy="347.4" r="1.3"/>
<circle cx="138.2" cy="337.1" r="1.3"/>
<circle cx="135.7" cy="353.8" r="1.3"/>
<circle cx="135.8" cy="344.2" r="1.3"/>
<circle cx="136.9" cy="340.4" r="1.3"/>
<circle cx="149.6" cy="354.9" r="1.3"/>
<circle cx="137.1" cy="334.9" r="1.3"/>
<circle cx="146.2" cy="335.1" r="1.3"/>
<circle cx="128.1" cy="352.5" r="1.3"/>
<circle cx="138.6" cy="350.5" r="1.3"/>
<circle cx="138.2" cy="352.1" r="1.3"/>
<circle cx="139.5" cy="334.1" r="1.3"/>
<circle cx="128.4" cy="343.8" r="1.3"/>
<circle cx="144.0" cy="352.7" r="1.3"/>
<circle cx="130.2" cy="345.6" r="1.3"/>
<circle cx="137.3" cy="342.6" r="1.3"/>
<circle cx="131.6" cy="337.1" r="1.3"/>
<circle cx="141.0" cy="353.1" r="1.3"/>
<circle cx="130.7" cy="342.3" r="1.3"/>
<circle cx="148.1" cy="354.2" r="1.3"/>
<circle cx="132.9" cy="333.2" r="1.3"/>
<circle cx="151.6" cy="354.4" r="1.3"/>
<circle cx="140.1" cy="331.3" r="1.3"/>
<circle cx="176.2" cy="339.7" r="1.3"/>
<circle cx="175.6" cy="345.5" r="1.3"/>
<circle cx="173.6" cy="334.0" r="1.3"/>
<circle cx="172.6" cy="335.6" r="1.3"/>
<circle cx="163.1" cy="351.2" r="1.3"/>
<circle cx="173.7" cy="334.6" r="1.3"/>
<circle cx="158.5" cy="340.0" r="1.3"/>
<circle cx="165.9" cy="339.6" r="1.3"/>
<circle cx="156.1" cy="336.2" r="1.3"/>
<circle cx="171.1" cy="352.4" r="1.3"/>
<circle cx="154.0" cy="344.1" r="1.3"/>
<circle cx="171.9" cy="331.0" r="1.3"/>
<circle cx="174.0" cy="332.9" r="1.3"/>
<circle cx="168.0" cy="343.8" r="1.3"/>
<circle cx="168.7" cy="337.7" r="1.3"/>
<circle cx="163.5" cy="344.6" r="1.3"/>
<circle cx="163.6" cy="346.5" r="1.3"/>
<circle cx="164.2" cy="341.0" r="1.3"/>
<circle cx="153.6" cy="345.5" r="1.3"/>
<circle cx="165.2" cy="335.9" r="1.3"/>
<circle cx="172.1" cy="349.5" r="1.3"/>
<circle cx="164.5" cy="334.5" r="1.3"/>
<circle cx="164.8" cy="332.7" r="1.3"/>
<circle cx="156.2" cy="340.8" r="1.3"/>
<circle cx="155.3" cy="341.0" r="1.3"/>
<circle cx="165.8" cy="331.0" r="1.3"/>
<circle cx="168.9" cy="332.1" r="1.3"/>
<circle cx="171.3" cy="349.4" r="1.3"/>
<circle cx="165.8" cy="331.4" r="1.3"/>
<circle cx="165.6" cy="339.4" r="1.3"/>
<circle cx="176.8" cy="333.4" r="1.3"/>
<circle cx="174.4" cy="354.9" r="1.3"/>
<circle cx="171.3" cy="350.4" r="1.3"/>
<circle cx="157.8" cy="354.5" r="1.3"/>
<circle cx="165.3" cy="353.9" r="1.3"/>
<circle cx="175.9" cy="334.1" r="1.3"/>
<circle cx="172.7" cy="353.3" r="1.3"/>
<circle cx="154.6" cy="338.8" r="1.3"/>
<circle cx="171.9" cy="334.0" r="1.3"/>
<circle cx="175.4" cy="336.9" r="1.3"/>
<circle cx="173.4" cy="333.6" r="1.3"/>
<circle cx="165.6" cy="353.0" r="1.3"/>
<circle cx="158.2" cy="336.6" r="1.3"/>
<circle cx="165.7" cy="338.0" r="1.3"/>
<circle cx="153.9" cy="334.6" r="1.3"/>
<circle cx="157.0" cy="353.4" r="1.3"/>
<circle cx="170.0" cy="352.4" r="1.3"/>
<circle cx="157.2" cy="349.6" r="1.3"/>
<circle cx="155.9" cy="343.3" r="1.3"/>
<circle cx="168.9" cy="339.0" r="1.3"/>
<circle cx="174.8" cy="343.9" r="1.3"/>
<circle cx="167.5" cy="352.1" r="1.3"/>
<circle cx="155.6" cy="354.8" r="1.3"/>
<circle cx="168.7" cy="339.9" r="1.3"/>
<circle cx="172.9" cy="336.6" r="1.3"/>
<circle cx="177.8" cy="344.4" r="1.3"/>
<circle cx="162.0" cy="349.1" r="1.3"/>
<circle cx="164.1" cy="334.4" r="1.3"/>
<circle cx="171.6" cy="331.2" r="1.3"/>
<circle cx="173.5" cy="336.3" r="1.3"/>
<circle cx="169.0" cy="354.6" r="1.3"/>
<circle cx="167.6" cy="346.6" r="1.3"/>
<circle cx="160.8" cy="330.0" r="1.3"/>
<circle cx="153.8" cy="333.7" r="1.3"/>
<circle cx="168.4" cy="340.8" r="1.3"/>
<circle cx="165.8" cy="352.4" r="1.3"/>
<circle cx="156.3" cy="335.7" r="1.3"/>
<circle cx="169.3" cy="330.6" r="1.3"/>
<circle cx="153.1" cy="338.9" r="1.3"/>
<circle cx="155.7" cy="338.9" r="1.3"/>
<circle cx="158.6" cy="344.6" r="1.3"/>
<circle cx="167.7" cy="335.1" r="1.3"/>
<circle cx="168.6" cy="341.9" r="1.3"/>
<circle cx="156.4" cy="353.4" r="1.3"/>
<circle cx="184.1" cy="333.7" r="1.3"/>
<circle cx="180.4" cy="346.0" r="1.3"/>
<circle cx="199.8" cy="349.6" r="1.3"/>
<circle cx="188.0" cy="336.6" r="1.3"/>
<circle cx="178.3" cy="346.1" r="1.3"/>
<circle cx="192.1" cy="338.8" r="1.3"/>
<circle cx="194.1" cy="341.1" r="1.3"/>
<circle cx="201.4" cy="348.3" r="1.3"/>
<circle cx="184.2" cy="352.6" r="1.3"/>
<circle cx="179.1" cy="343.3" r="1.3"/>
<circle cx="188.1" cy="335.9" r="1.3"/>
<circle cx="179.5" cy="349.5" r="1.3"/>
<circle cx="178.3" cy="343.8" r="1.3"/>
<circle cx="201.5" cy="333.6" r="1.3"/>
<circle cx="183.0" cy="345.2" r="1.3"/>
<circle cx="190.7" cy="346.0" r="1.3"/>
<circle cx="198.3" cy="334.4" r="1.3"/>
<circle cx="185.7" cy="337.5" r="1.3"/>
<circle cx="179.2" cy="352.2" r="1.3"/>
<circle cx="197.6" cy="347.9" r="1.3"/>
<circle cx="178.2" cy="351.1" r="1.3"/>
<circle cx="196.6" cy="341.6" r="1.3"/>
<circle cx="196.5" cy="341.3" r="1.3"/>
<circle cx="183.6" cy="332.6" r="1.3"/>
<circle cx="183.8" cy="331.0" r="1.3"/>
<circle cx="186.4" cy="348.7" r="1.3"/>
<circle cx="195.4" cy="351.1" r="1.3"/>
<circle cx="195.8" cy="336.6" r="1.3"/>
<circle cx="191.8" cy="340.9" r="1.3"/>
<circle cx="197.7" cy="343.1" r="1.3"/>
<circle cx="184.6" cy="346.1" r="1.3"/>
<circle cx="202.1" cy="335.4" r="1.3"/>
<circle cx="200.0" cy="330.4" r="1.3"/>
<circle cx="184.5" cy="335.9" r="1.3"/>
<circle cx="196.6" cy="353.6" r="1.3"/>
<circle cx="196.7" cy="338.2" r="1.3"/>
<circle cx="200.0" cy="338.2" r="1.3"/>
<circle cx="184.0" cy="352.7" r="1.3"/>
<circle cx="193.8" cy="347.3" r="1.3"/>
<circle cx="194.6" cy="354.5" r="1.3"/>
<circle cx="189.7" cy="351.0" r="1.3"/>
<circle cx="195.4" cy="351.4" r="1.3"/>
<circle cx="188.9" cy="348.1" r="1.3"/>
<circle cx="192.3" cy="337.7" r="1.3"/>
<circle cx="205.5" cy="345.6" r="1.3"/>
<circle cx="203.9" cy="352.8" r="1.3"/>
<circle cx="204.7" cy="330.7" r="1.3"/>
<circle cx="204.3" cy="353.2" r="1.3"/>
<circle cx="207.1" cy="333.5" r="1.3"/>
<circle cx="203.3" cy="331.0" r="1.3"/>
<circle cx="211.3" cy="345.8" r="1.3"/>
<circle cx="211.4" cy="348.4" r="1.3"/>
<circle cx="200.8" cy="326.3" r="1.3"/>
<circle cx="204.4" cy="329.4" r="1.3"/>
<circle cx="209.8" cy="330.5" r="1.3"/>
<circle cx="200.8" cy="330.1" r="1.3"/>
<circle cx="211.0" cy="331.2" r="1.3"/>
<circle cx="55.7" cy="285.1" r="1.3"/>
<circle cx="55.8" cy="280.9" r="1.3"/>
<circle cx="99.2" cy="300.3" r="1.3"/>
<circle cx="93.9" cy="300.6" r="1.3"/>
<circle cx="93.8" cy="287.2" r="1.3"/>
<circle cx="80.5" cy="282.4" r="1.3"/>
<circle cx="96.9" cy="285.1" r="1.3"/>
<circle cx="86.0" cy="290.6" r="1.3"/>
<circle cx="53.5" cy="311.4" r="1.3"/>
<circle cx="60.1" cy="322.9" r="1.3"/>
<circle cx="87.2" cy="313.0" r="1.3"/>
<circle cx="102.1" cy="317.6" r="1.3"/>
<circle cx="99.3" cy="320.5" r="1.3"/>
<circle cx="78.8" cy="315.3" r="1.3"/>
<circle cx="88.9" cy="324.3" r="1.3"/>
<circle cx="86.7" cy="322.6" r="1.3"/>
<circle cx="91.4" cy="310.4" r="1.3"/>
<circle cx="74.6" cy="332.3" r="1.3"/>
<circle cx="73.5" cy="334.3" r="1.3"/>
<circle cx="53.0" cy="335.1" r="1.3"/>
<circle cx="97.1" cy="354.4" r="1.3"/>
<circle cx="78.1" cy="342.3" r="1.3"/>
<circle cx="90.3" cy="349.9" r="1.3"/>
<circle cx="82.6" cy="342.4" r="1.3"/>
<circle cx="86.7" cy="350.8" r="1.3"/>
<circle cx="84.5" cy="353.6" r="1.3"/>
<circle cx="85.1" cy="335.4" r="1.3"/>
<circle cx="95.5" cy="342.5" r="1.3"/>
<circle cx="80.7" cy="345.9" r="1.3"/>
</g>
<rect x="68.8" y="276.7" width="5.2" height="5.2" fill="none" stroke="#3f8fd0" stroke-width="0.75" stroke-opacity="0.9"/>
<rect x="136.2" y="271.1" width="5.2" height="5.2" fill="none" stroke="#3f8fd0" stroke-width="0.75" stroke-opacity="0.9"/>
<rect x="68.3" y="291.9" width="5.2" height="5.2" fill="none" stroke="#3f8fd0" stroke-width="0.75" stroke-opacity="0.9"/>
<rect x="150.0" y="313.6" width="5.2" height="5.2" fill="none" stroke="#3f8fd0" stroke-width="0.75" stroke-opacity="0.9"/>
<rect x="117.6" y="314.7" width="5.2" height="5.2" fill="none" stroke="#3f8fd0" stroke-width="0.75" stroke-opacity="0.9"/>
<rect x="107.3" y="330.4" width="5.2" height="5.2" fill="none" stroke="#3f8fd0" stroke-width="0.75" stroke-opacity="0.9"/>
<rect x="101.0" y="345.6" width="5.2" height="5.2" fill="none" stroke="#3f8fd0" stroke-width="0.75" stroke-opacity="0.9"/>
<rect x="160.1" y="315.9" width="5.2" height="5.2" fill="none" stroke="#3f8fd0" stroke-width="0.75" stroke-opacity="0.9"/>
<rect x="164.2" y="340.3" width="5.2" height="5.2" fill="none" stroke="#3f8fd0" stroke-width="0.75" stroke-opacity="0.9"/>
<circle cx="88.8" cy="182.2" r="3.7" fill="none" stroke="#2ca02c" stroke-width="1.1"/>
<circle cx="68.4" cy="188.7" r="3.7" fill="none" stroke="#2ca02c" stroke-width="1.1"/>
<circle cx="85.8" cy="216.3" r="3.7" fill="none" stroke="#2ca02c" stroke-width="1.1"/>
<circle cx="100.8" cy="221.0" r="3.7" fill="none" stroke="#2ca02c" stroke-width="1.1"/>
<circle cx="111.2" cy="201.6" r="3.7" fill="none" stroke="#2ca02c" stroke-width="1.1"/>
<circle cx="132.1" cy="223.3" r="3.7" fill="none" stroke="#2ca02c" stroke-width="1.1"/>
<circle cx="129.1" cy="229.3" r="3.7" fill="none" stroke="#2ca02c" stroke-width="1.1"/>
<circle cx="156.3" cy="192.7" r="3.7" fill="none" stroke="#2ca02c" stroke-width="1.1"/>
<circle cx="63.7" cy="233.3" r="3.7" fill="none" stroke="#2ca02c" stroke-width="1.1"/>
<circle cx="67.5" cy="232.2" r="3.7" fill="none" stroke="#2ca02c" stroke-width="1.1"/>
<circle cx="94.8" cy="236.3" r="3.7" fill="none" stroke="#2ca02c" stroke-width="1.1"/>
<circle cx="56.7" cy="243.1" r="3.7" fill="none" stroke="#2ca02c" stroke-width="1.1"/>
<circle cx="100.8" cy="254.6" r="3.7" fill="none" stroke="#2ca02c" stroke-width="1.1"/>
<circle cx="54.8" cy="268.5" r="3.7" fill="none" stroke="#2ca02c" stroke-width="1.1"/>
<circle cx="123.1" cy="236.3" r="3.7" fill="none" stroke="#2ca02c" stroke-width="1.1"/>
<circle cx="119.4" cy="254.6" r="3.7" fill="none" stroke="#2ca02c" stroke-width="1.1"/>
<circle cx="70.9" cy="323.0" r="3.7" fill="none" stroke="#2ca02c" stroke-width="1.1"/>
<circle cx="74.0" cy="170.8" r="3.7" fill="none" stroke="#2ca02c" stroke-width="1.1"/>
<circle cx="171.6" cy="176.6" r="3.7" fill="none" stroke="#2ca02c" stroke-width="1.1"/>
<circle cx="54.0" cy="246.8" r="3.7" fill="none" stroke="#2ca02c" stroke-width="1.1"/>
<circle cx="108.4" cy="326.1" r="3.7" fill="none" stroke="#2ca02c" stroke-width="1.1"/>
<circle cx="203.5" cy="318.8" r="3.7" fill="none" stroke="#2ca02c" stroke-width="1.1"/>
<circle cx="111.6" cy="132.2" r="3.9" fill="none" stroke="#2ca02c" stroke-width="1.2"/>
<path d="M111.6,128.1 L115.7,132.2 L111.6,136.3 L107.5,132.2Z" fill="#8b3dd6" stroke="#000" stroke-width="0.8"/>
<circle cx="122.5" cy="146.4" r="3.9" fill="none" stroke="#2ca02c" stroke-width="1.2"/>
<path d="M122.5,142.3 L126.6,146.4 L122.5,150.5 L118.4,146.4Z" fill="#8b3dd6" stroke="#000" stroke-width="0.8"/>
<path d="M174.1,156.7 L178.2,160.8 L174.1,164.9 L170.0,160.8Z" fill="#8b3dd6" stroke="#000" stroke-width="0.8"/>
<path d="M225.8,167.1 L229.9,171.2 L225.8,175.3 L221.7,171.2Z" fill="#8b3dd6" stroke="#000" stroke-width="0.8"/>
<path d="M238.0,174.2 L242.1,178.3 L238.0,182.4 L233.9,178.3Z" fill="#8b3dd6" stroke="#000" stroke-width="0.8"/>
<path d="M174.6,216.5 L178.7,220.6 L174.6,224.7 L170.5,220.6Z" fill="#8b3dd6" stroke="#000" stroke-width="0.8"/>
<path d="M208.5,219.8 L212.6,223.9 L208.5,228.0 L204.4,223.9Z" fill="#8b3dd6" stroke="#000" stroke-width="0.8"/>
<path d="M227.2,208.0 L231.3,212.1 L227.2,216.2 L223.1,212.1Z" fill="#8b3dd6" stroke="#000" stroke-width="0.8"/>
<path d="M240.5,223.5 L244.6,227.6 L240.5,231.7 L236.4,227.6Z" fill="#8b3dd6" stroke="#000" stroke-width="0.8"/>
<path d="M254.6,230.3 L258.7,234.4 L254.6,238.5 L250.5,234.4Z" fill="#8b3dd6" stroke="#000" stroke-width="0.8"/>
<path d="M266.9,248.4 L271.0,252.5 L266.9,256.6 L262.8,252.5Z" fill="#8b3dd6" stroke="#000" stroke-width="0.8"/>
<path d="M238.0,271.8 L242.1,275.9 L238.0,280.0 L233.9,275.9Z" fill="#8b3dd6" stroke="#000" stroke-width="0.8"/>
<path d="M237.8,192.3 L241.3,198.3 L234.3,198.3Z" fill="#add8e6" stroke="#000" stroke-width="0.95" stroke-linejoin="miter"/>
<path d="M240.6,225.5 L244.1,231.5 L237.1,231.5Z" fill="#add8e6" stroke="#000" stroke-width="0.95" stroke-linejoin="miter"/>
<path d="M254.6,232.0 L258.1,238.0 L251.1,238.0Z" fill="#add8e6" stroke="#000" stroke-width="0.95" stroke-linejoin="miter"/>
<path d="M243.4,278.8 L246.9,284.8 L239.9,284.8Z" fill="#add8e6" stroke="#000" stroke-width="0.95" stroke-linejoin="miter"/>
<path d="M252.9,290.7 L256.4,296.7 L249.4,296.7Z" fill="#add8e6" stroke="#000" stroke-width="0.95" stroke-linejoin="miter"/>
<path d="M266.9,296.7 L270.4,302.7 L263.4,302.7Z" fill="#add8e6" stroke="#000" stroke-width="0.95" stroke-linejoin="miter"/>
<path d="M258.9,305.6 L262.4,311.6 L255.4,311.6Z" fill="#add8e6" stroke="#000" stroke-width="0.95" stroke-linejoin="miter"/>
<path d="M255.9,315.2 L259.4,321.2 L252.4,321.2Z" fill="#add8e6" stroke="#000" stroke-width="0.95" stroke-linejoin="miter"/>
<path d="M64.2,332.2 L67.7,338.2 L60.7,338.2Z" fill="#add8e6" stroke="#000" stroke-width="0.95" stroke-linejoin="miter"/>
<path d="M214.6,289.6 L218.2,295.6 L211.1,295.6Z" fill="#add8e6" stroke="#000" stroke-width="0.95" stroke-linejoin="miter"/>
<path d="M227.6,304.1 L231.1,310.1 L224.1,310.1Z" fill="#add8e6" stroke="#000" stroke-width="0.95" stroke-linejoin="miter"/>
<path d="M207.5,312.4 L211.0,318.4 L204.0,318.4Z" fill="#add8e6" stroke="#000" stroke-width="0.95" stroke-linejoin="miter"/>
<path d="M216.7,312.4 L220.2,318.4 L213.2,318.4Z" fill="#add8e6" stroke="#000" stroke-width="0.95" stroke-linejoin="miter"/>
<path d="M136.6,287.6 L140.1,293.6 L133.1,293.6Z" fill="#add8e6" stroke="#000" stroke-width="0.95" stroke-linejoin="miter"/>
<path d="M122.9,315.8 L126.4,321.8 L119.4,321.8Z" fill="#add8e6" stroke="#000" stroke-width="0.95" stroke-linejoin="miter"/>
<path d="M140.3,315.8 L143.8,321.8 L136.8,321.8Z" fill="#add8e6" stroke="#000" stroke-width="0.95" stroke-linejoin="miter"/>
<path d="M152.6,298.5 L156.1,304.5 L149.1,304.5Z" fill="#add8e6" stroke="#000" stroke-width="0.95" stroke-linejoin="miter"/>
<path d="M176.9,289.6 L180.4,295.6 L173.4,295.6Z" fill="#add8e6" stroke="#000" stroke-width="0.95" stroke-linejoin="miter"/>
<path d="M162.3,298.5 L165.8,304.5 L158.8,304.5Z" fill="#add8e6" stroke="#000" stroke-width="0.95" stroke-linejoin="miter"/>
<path d="M168.7,299.0 L172.2,305.0 L165.2,305.0Z" fill="#add8e6" stroke="#000" stroke-width="0.95" stroke-linejoin="miter"/>
<path d="M163.1,307.9 L166.6,313.9 L159.6,313.9Z" fill="#add8e6" stroke="#000" stroke-width="0.95" stroke-linejoin="miter"/>
<path d="M181.1,309.4 L184.6,315.4 L177.6,315.4Z" fill="#add8e6" stroke="#000" stroke-width="0.95" stroke-linejoin="miter"/>
<path d="M180.2,315.4 L183.7,321.4 L176.7,321.4Z" fill="#add8e6" stroke="#000" stroke-width="0.95" stroke-linejoin="miter"/>
<path d="M132.6,335.8 L136.1,341.8 L129.1,341.8Z" fill="#add8e6" stroke="#000" stroke-width="0.95" stroke-linejoin="miter"/>
<polygon points="262.60,266.00 266.12,268.56 264.77,272.69 260.43,272.69 259.08,268.56" fill="#f0a30a" stroke="#000" stroke-width="0.8"/>
<polygon points="271.00,244.70 274.52,247.26 273.17,251.39 268.83,251.39 267.48,247.26" fill="#f0a30a" stroke="#000" stroke-width="0.8"/>
<polygon points="286.00,250.60 289.52,253.16 288.17,257.29 283.83,257.29 282.48,253.16" fill="#f0a30a" stroke="#000" stroke-width="0.8"/>
<polygon points="281.10,232.80 284.62,235.36 283.27,239.49 278.93,239.49 277.58,235.36" fill="#f0a30a" stroke="#000" stroke-width="0.8"/>
<polygon points="276.90,257.90 280.42,260.46 279.07,264.59 274.73,264.59 273.38,260.46" fill="#f0a30a" stroke="#000" stroke-width="0.8"/>
<polygon points="227.50,267.80 231.02,270.36 229.67,274.49 225.33,274.49 223.98,270.36" fill="#f0a30a" stroke="#000" stroke-width="0.8"/>
<circle cx="266.0" cy="25.3" r="3.1" fill="#ff0000" stroke="#000" stroke-width="0.8"/>
<circle cx="247.4" cy="67.5" r="3.1" fill="#ff0000" stroke="#000" stroke-width="0.8"/>
<circle cx="202.3" cy="84.1" r="3.9" fill="none" stroke="#2ca02c" stroke-width="1.2"/>
<circle cx="202.3" cy="84.1" r="3.1" fill="#ff0000" stroke="#000" stroke-width="0.8"/>
<circle cx="232.3" cy="76.9" r="3.9" fill="none" stroke="#2ca02c" stroke-width="1.2"/>
<circle cx="232.3" cy="76.9" r="3.1" fill="#ff0000" stroke="#000" stroke-width="0.8"/>
<circle cx="213.3" cy="107.3" r="3.9" fill="none" stroke="#2ca02c" stroke-width="1.2"/>
<circle cx="213.3" cy="107.3" r="3.1" fill="#ff0000" stroke="#000" stroke-width="0.8"/>
<circle cx="269.0" cy="89.9" r="3.9" fill="none" stroke="#2ca02c" stroke-width="1.2"/>
<circle cx="269.0" cy="89.9" r="3.1" fill="#ff0000" stroke="#000" stroke-width="0.8"/>
<circle cx="287.8" cy="88.0" r="3.9" fill="none" stroke="#2ca02c" stroke-width="1.2"/>
<circle cx="287.8" cy="88.0" r="3.1" fill="#ff0000" stroke="#000" stroke-width="0.8"/>
<circle cx="258.2" cy="103.1" r="3.1" fill="#ff0000" stroke="#000" stroke-width="0.8"/>
<circle cx="268.9" cy="107.6" r="3.1" fill="#ff0000" stroke="#000" stroke-width="0.8"/>
<circle cx="284.3" cy="106.7" r="3.1" fill="#ff0000" stroke="#000" stroke-width="0.8"/>
<circle cx="238.4" cy="110.1" r="3.9" fill="none" stroke="#2ca02c" stroke-width="1.2"/>
<circle cx="238.4" cy="110.1" r="3.1" fill="#ff0000" stroke="#000" stroke-width="0.8"/>
<circle cx="231.6" cy="115.2" r="3.1" fill="#ff0000" stroke="#000" stroke-width="0.8"/>
<circle cx="224.3" cy="114.2" r="3.9" fill="none" stroke="#2ca02c" stroke-width="1.2"/>
<circle cx="224.3" cy="114.2" r="3.1" fill="#ff0000" stroke="#000" stroke-width="0.8"/>
<circle cx="250.6" cy="129.9" r="3.1" fill="#ff0000" stroke="#000" stroke-width="0.8"/>
<circle cx="252.7" cy="136.7" r="3.9" fill="none" stroke="#2ca02c" stroke-width="1.2"/>
<circle cx="252.7" cy="136.7" r="3.1" fill="#ff0000" stroke="#000" stroke-width="0.8"/>
<circle cx="211.2" cy="129.3" r="3.9" fill="none" stroke="#2ca02c" stroke-width="1.2"/>
<circle cx="211.2" cy="129.3" r="3.1" fill="#ff0000" stroke="#000" stroke-width="0.8"/>
<circle cx="266.2" cy="150.1" r="3.1" fill="#ff0000" stroke="#000" stroke-width="0.8"/>
<circle cx="272.8" cy="163.7" r="3.1" fill="#ff0000" stroke="#000" stroke-width="0.8"/>
<circle cx="261.8" cy="199.7" r="3.9" fill="none" stroke="#2ca02c" stroke-width="1.2"/>
<circle cx="261.8" cy="199.7" r="3.1" fill="#ff0000" stroke="#000" stroke-width="0.8"/>
<circle cx="282.6" cy="228.4" r="3.1" fill="#ff0000" stroke="#000" stroke-width="0.8"/>
<circle cx="271.4" cy="278.4" r="3.1" fill="#ff0000" stroke="#000" stroke-width="0.8"/>
<circle cx="274.7" cy="320.2" r="3.1" fill="#ff0000" stroke="#000" stroke-width="0.8"/>
<path d="M53.50,297.85 L57.00,299.64 L60.50,301.44 L64.00,303.23 L67.50,305.02 L70.99,306.82 L74.49,308.61 L77.99,310.41 L81.49,312.20 L84.99,314.00 L88.49,315.79 L91.99,317.58 L95.49,319.38 L98.99,321.17 L102.49,322.97 L105.98,324.76 L109.48,326.56 L112.98,328.35 L116.48,330.15 L119.98,331.94 L123.48,333.73 L126.98,335.53 L130.48,337.32 L133.98,339.12 L137.47,340.91 L140.97,342.71 L144.47,344.50 L147.97,346.29 L151.47,348.09 L154.97,349.88 L158.47,351.68 L161.97,353.47 L165.47,355.27 L168.96,357.06 L172.46,358.86 L175.96,360.65 L179.46,362.44 L182.96,364.24 L186.46,366.03 L189.96,367.83 L193.46,369.62 L196.96,371.42 L200.46,373.21 L203.95,375.00 L207.45,376.80 L210.95,378.59 L214.45,380.39 L217.95,382.18 L221.45,383.98 L224.95,385.77 L228.45,387.57 L231.95,389.36 L235.44,391.15 L238.94,392.95 L242.44,394.74 L245.94,396.54 L249.44,398.33 L252.94,400.13 L256.44,401.92 L259.94,403.71 L263.44,405.51 L266.93,407.30 L270.43,409.10 L273.93,410.89 L277.43,412.69 L280.93,414.48 L284.43,416.27 L287.93,418.07 L291.43,419.86 L294.93,421.66 L298.43,423.45 L301.92,425.25 L305.42,427.04 L308.92,428.84 L312.42,430.63 L315.92,432.42 L319.42,434.22 L322.92,436.01 L326.42,437.81 L329.92,439.60 L333.41,441.40" fill="none" stroke="#1f77b4" stroke-width="0.8" stroke-dasharray="1.3 0.6" stroke-opacity="0.85"/>
<path d="M53.50,181.95 L57.00,183.74 L60.50,185.54 L64.00,187.33 L67.50,189.12 L70.99,190.92 L74.49,192.71 L77.99,194.51 L81.49,196.30 L84.99,198.10 L88.49,199.89 L91.99,201.68 L95.49,203.48 L98.99,205.27 L102.49,207.07 L105.98,208.86 L109.48,210.66 L112.98,212.45 L116.48,214.25 L119.98,216.04 L123.48,217.83 L126.98,219.63 L130.48,221.42 L133.98,223.22 L137.47,225.01 L140.97,226.81 L144.47,228.60 L147.97,230.39 L151.47,232.19 L154.97,233.98 L158.47,235.78 L161.97,237.57 L165.47,239.37 L168.96,241.16 L172.46,242.96 L175.96,244.75 L179.46,246.54 L182.96,248.34 L186.46,250.13 L189.96,251.93 L193.46,253.72 L196.96,255.52 L200.46,257.31 L203.95,259.10 L207.45,260.90 L210.95,262.69 L214.45,264.49 L217.95,266.28 L221.45,268.08 L224.95,269.87 L228.45,271.67 L231.95,273.46 L235.44,275.25 L238.94,277.05 L242.44,278.84 L245.94,280.64 L249.44,282.43 L252.94,284.23 L256.44,286.02 L259.94,287.81 L263.44,289.61 L266.93,291.40 L270.43,293.20 L273.93,294.99 L277.43,296.79 L280.93,298.58 L284.43,300.37 L287.93,302.17 L291.43,303.96 L294.93,305.76 L298.43,307.55 L301.92,309.35 L305.42,311.14 L308.92,312.94 L312.42,314.73 L315.92,316.52 L319.42,318.32 L322.92,320.11 L326.42,321.91 L329.92,323.70 L333.41,325.50" fill="none" stroke="#1f77b4" stroke-width="0.8" stroke-dasharray="1.3 0.6" stroke-opacity="0.85"/>
<path d="M53.50,66.05 L57.00,67.84 L60.50,69.64 L64.00,71.43 L67.50,73.22 L70.99,75.02 L74.49,76.81 L77.99,78.61 L81.49,80.40 L84.99,82.20 L88.49,83.99 L91.99,85.78 L95.49,87.58 L98.99,89.37 L102.49,91.17 L105.98,92.96 L109.48,94.76 L112.98,96.55 L116.48,98.35 L119.98,100.14 L123.48,101.93 L126.98,103.73 L130.48,105.52 L133.98,107.32 L137.47,109.11 L140.97,110.91 L144.47,112.70 L147.97,114.49 L151.47,116.29 L154.97,118.08 L158.47,119.88 L161.97,121.67 L165.47,123.47 L168.96,125.26 L172.46,127.06 L175.96,128.85 L179.46,130.64 L182.96,132.44 L186.46,134.23 L189.96,136.03 L193.46,137.82 L196.96,139.62 L200.46,141.41 L203.95,143.20 L207.45,145.00 L210.95,146.79 L214.45,148.59 L217.95,150.38 L221.45,152.18 L224.95,153.97 L228.45,155.77 L231.95,157.56 L235.44,159.35 L238.94,161.15 L242.44,162.94 L245.94,164.74 L249.44,166.53 L252.94,168.33 L256.44,170.12 L259.94,171.91 L263.44,173.71 L266.93,175.50 L270.43,177.30 L273.93,179.09 L277.43,180.89 L280.93,182.68 L284.43,184.47 L287.93,186.27 L291.43,188.06 L294.93,189.86 L298.43,191.65 L301.92,193.45 L305.42,195.24 L308.92,197.04 L312.42,198.83 L315.92,200.62 L319.42,202.42 L322.92,204.21 L326.42,206.01 L329.92,207.80 L333.41,209.60" fill="none" stroke="#1f77b4" stroke-width="0.8" stroke-dasharray="1.3 0.6" stroke-opacity="0.85"/>
<path d="M53.50,-49.85 L57.00,-48.06 L60.50,-46.26 L64.00,-44.47 L67.50,-42.68 L70.99,-40.88 L74.49,-39.09 L77.99,-37.29 L81.49,-35.50 L84.99,-33.70 L88.49,-31.91 L91.99,-30.12 L95.49,-28.32 L98.99,-26.53 L102.49,-24.73 L105.98,-22.94 L109.48,-21.14 L112.98,-19.35 L116.48,-17.55 L119.98,-15.76 L123.48,-13.97 L126.98,-12.17 L130.48,-10.38 L133.98,-8.58 L137.47,-6.79 L140.97,-4.99 L144.47,-3.20 L147.97,-1.41 L151.47,0.39 L154.97,2.18 L158.47,3.98 L161.97,5.77 L165.47,7.57 L168.96,9.36 L172.46,11.16 L175.96,12.95 L179.46,14.74 L182.96,16.54 L186.46,18.33 L189.96,20.13 L193.46,21.92 L196.96,23.72 L200.46,25.51 L203.95,27.30 L207.45,29.10 L210.95,30.89 L214.45,32.69 L217.95,34.48 L221.45,36.28 L224.95,38.07 L228.45,39.87 L231.95,41.66 L235.44,43.45 L238.94,45.25 L242.44,47.04 L245.94,48.84 L249.44,50.63 L252.94,52.43 L256.44,54.22 L259.94,56.01 L263.44,57.81 L266.93,59.60 L270.43,61.40 L273.93,63.19 L277.43,64.99 L280.93,66.78 L284.43,68.57 L287.93,70.37 L291.43,72.16 L294.93,73.96 L298.43,75.75 L301.92,77.55 L305.42,79.34 L308.92,81.14 L312.42,82.93 L315.92,84.72 L319.42,86.52 L322.92,88.31 L326.42,90.11 L329.92,91.90 L333.41,93.70" fill="none" stroke="#1f77b4" stroke-width="0.8" stroke-dasharray="1.3 0.6" stroke-opacity="0.85"/>
<path d="M53.50,107.37 L57.00,109.17 L60.50,110.96 L64.00,112.75 L67.50,114.55 L70.99,116.34 L74.49,118.14 L77.99,119.93 L81.49,121.73 L84.99,123.52 L88.49,125.31 L91.99,127.11 L95.49,128.90 L98.99,130.70 L102.49,132.49 L105.98,134.29 L109.48,136.08 L112.98,137.87 L116.48,139.67 L119.98,141.46 L123.48,143.26 L126.98,145.05 L130.48,146.85 L133.98,148.64 L137.47,150.44 L140.97,152.23 L144.47,154.02 L147.97,155.82 L151.47,157.61 L154.97,159.41 L158.47,161.20 L161.97,163.00 L165.47,164.79 L168.96,166.58 L172.46,168.38 L175.96,170.17 L179.46,171.97 L182.96,173.76 L186.46,175.56 L189.96,177.35 L193.46,179.15 L196.96,180.94 L200.46,182.73 L203.95,184.53 L207.45,186.32 L210.95,188.12 L214.45,189.91 L217.95,191.71 L221.45,193.50 L224.95,195.29 L228.45,197.09 L231.95,198.88 L235.44,200.68 L238.94,202.47 L242.44,204.27 L245.94,206.06 L249.44,207.86 L252.94,209.65 L256.44,211.44 L259.94,213.24 L263.44,215.03 L266.93,216.83 L270.43,218.62 L273.93,220.42 L277.43,222.21 L280.93,224.00 L284.43,225.80 L287.93,227.59 L291.43,229.39 L294.93,231.18 L298.43,232.98 L301.92,234.77 L305.42,236.56 L308.92,238.36 L312.42,240.15 L315.92,241.95 L319.42,243.74 L322.92,245.54 L326.42,247.33 L329.92,249.13 L333.41,250.92" fill="none" stroke="#2a80c0" stroke-width="1.2" stroke-opacity="1"/>
<path d="M53.50,111.82 L57.00,110.03 L60.50,108.23 L64.00,106.44 L67.50,104.64 L70.99,102.85 L74.49,101.05 L77.99,99.26 L81.49,97.46 L84.99,95.67 L88.49,93.88 L91.99,92.08 L95.49,90.29 L98.99,88.49 L102.49,86.70 L105.98,84.90 L109.48,83.11 L112.98,81.32 L116.48,79.52 L119.98,77.73 L123.48,75.93 L126.98,74.14 L130.48,72.34 L133.98,70.55 L137.47,68.75 L140.97,66.96 L144.47,65.17 L147.97,63.37 L151.47,61.58 L154.97,59.78 L158.47,57.99 L161.97,56.19 L165.47,54.40 L168.96,52.61 L172.46,50.81 L175.96,49.02 L179.46,47.22 L182.96,45.43 L186.46,43.63 L189.96,41.84 L193.46,40.05 L196.96,38.25 L200.46,36.46 L203.95,34.66 L207.45,32.87 L210.95,31.07 L214.45,29.28 L217.95,27.48 L221.45,25.69 L224.95,23.90 L228.45,22.10 L231.95,20.31 L235.44,18.51 L238.94,16.72 L242.44,14.92 L245.94,13.13 L249.44,11.34 L252.94,9.54 L256.44,7.75 L259.94,5.95 L263.44,4.16 L266.93,2.36 L270.43,0.57 L273.93,-1.23 L277.43,-3.02 L280.93,-4.81 L284.43,-6.61 L287.93,-8.40 L291.43,-10.20 L294.93,-11.99 L298.43,-13.79 L301.92,-15.58 L305.42,-17.37 L308.92,-19.17 L312.42,-20.96 L315.92,-22.76 L319.42,-24.55 L322.92,-26.35 L326.42,-28.14 L329.92,-29.94 L333.41,-31.73" fill="none" stroke="#ff7f0e" stroke-width="0.8" stroke-dasharray="1.3 0.6" stroke-opacity="0.85"/>
<path d="M53.50,227.72 L57.00,225.93 L60.50,224.13 L64.00,222.34 L67.50,220.54 L70.99,218.75 L74.49,216.95 L77.99,215.16 L81.49,213.36 L84.99,211.57 L88.49,209.78 L91.99,207.98 L95.49,206.19 L98.99,204.39 L102.49,202.60 L105.98,200.80 L109.48,199.01 L112.98,197.22 L116.48,195.42 L119.98,193.63 L123.48,191.83 L126.98,190.04 L130.48,188.24 L133.98,186.45 L137.47,184.65 L140.97,182.86 L144.47,181.07 L147.97,179.27 L151.47,177.48 L154.97,175.68 L158.47,173.89 L161.97,172.09 L165.47,170.30 L168.96,168.51 L172.46,166.71 L175.96,164.92 L179.46,163.12 L182.96,161.33 L186.46,159.53 L189.96,157.74 L193.46,155.95 L196.96,154.15 L200.46,152.36 L203.95,150.56 L207.45,148.77 L210.95,146.97 L214.45,145.18 L217.95,143.38 L221.45,141.59 L224.95,139.80 L228.45,138.00 L231.95,136.21 L235.44,134.41 L238.94,132.62 L242.44,130.82 L245.94,129.03 L249.44,127.24 L252.94,125.44 L256.44,123.65 L259.94,121.85 L263.44,120.06 L266.93,118.26 L270.43,116.47 L273.93,114.67 L277.43,112.88 L280.93,111.09 L284.43,109.29 L287.93,107.50 L291.43,105.70 L294.93,103.91 L298.43,102.11 L301.92,100.32 L305.42,98.53 L308.92,96.73 L312.42,94.94 L315.92,93.14 L319.42,91.35 L322.92,89.55 L326.42,87.76 L329.92,85.96 L333.41,84.17" fill="none" stroke="#ff7f0e" stroke-width="0.8" stroke-dasharray="1.3 0.6" stroke-opacity="0.85"/>
<path d="M53.50,343.62 L57.00,341.83 L60.50,340.03 L64.00,338.24 L67.50,336.44 L70.99,334.65 L74.49,332.85 L77.99,331.06 L81.49,329.26 L84.99,327.47 L88.49,325.68 L91.99,323.88 L95.49,322.09 L98.99,320.29 L102.49,318.50 L105.98,316.70 L109.48,314.91 L112.98,313.12 L116.48,311.32 L119.98,309.53 L123.48,307.73 L126.98,305.94 L130.48,304.14 L133.98,302.35 L137.47,300.55 L140.97,298.76 L144.47,296.97 L147.97,295.17 L151.47,293.38 L154.97,291.58 L158.47,289.79 L161.97,287.99 L165.47,286.20 L168.96,284.41 L172.46,282.61 L175.96,280.82 L179.46,279.02 L182.96,277.23 L186.46,275.43 L189.96,273.64 L193.46,271.85 L196.96,270.05 L200.46,268.26 L203.95,266.46 L207.45,264.67 L210.95,262.87 L214.45,261.08 L217.95,259.28 L221.45,257.49 L224.95,255.70 L228.45,253.90 L231.95,252.11 L235.44,250.31 L238.94,248.52 L242.44,246.72 L245.94,244.93 L249.44,243.14 L252.94,241.34 L256.44,239.55 L259.94,237.75 L263.44,235.96 L266.93,234.16 L270.43,232.37 L273.93,230.57 L277.43,228.78 L280.93,226.99 L284.43,225.19 L287.93,223.40 L291.43,221.60 L294.93,219.81 L298.43,218.01 L301.92,216.22 L305.42,214.43 L308.92,212.63 L312.42,210.84 L315.92,209.04 L319.42,207.25 L322.92,205.45 L326.42,203.66 L329.92,201.86 L333.41,200.07" fill="none" stroke="#ff7f0e" stroke-width="0.8" stroke-dasharray="1.3 0.6" stroke-opacity="0.85"/>
<path d="M53.50,459.52 L57.00,457.73 L60.50,455.93 L64.00,454.14 L67.50,452.34 L70.99,450.55 L74.49,448.75 L77.99,446.96 L81.49,445.16 L84.99,443.37 L88.49,441.58 L91.99,439.78 L95.49,437.99 L98.99,436.19 L102.49,434.40 L105.98,432.60 L109.48,430.81 L112.98,429.02 L116.48,427.22 L119.98,425.43 L123.48,423.63 L126.98,421.84 L130.48,420.04 L133.98,418.25 L137.47,416.45 L140.97,414.66 L144.47,412.87 L147.97,411.07 L151.47,409.28 L154.97,407.48 L158.47,405.69 L161.97,403.89 L165.47,402.10 L168.96,400.31 L172.46,398.51 L175.96,396.72 L179.46,394.92 L182.96,393.13 L186.46,391.33 L189.96,389.54 L193.46,387.75 L196.96,385.95 L200.46,384.16 L203.95,382.36 L207.45,380.57 L210.95,378.77 L214.45,376.98 L217.95,375.18 L221.45,373.39 L224.95,371.60 L228.45,369.80 L231.95,368.01 L235.44,366.21 L238.94,364.42 L242.44,362.62 L245.94,360.83 L249.44,359.04 L252.94,357.24 L256.44,355.45 L259.94,353.65 L263.44,351.86 L266.93,350.06 L270.43,348.27 L273.93,346.47 L277.43,344.68 L280.93,342.89 L284.43,341.09 L287.93,339.30 L291.43,337.50 L294.93,335.71 L298.43,333.91 L301.92,332.12 L305.42,330.33 L308.92,328.53 L312.42,326.74 L315.92,324.94 L319.42,323.15 L322.92,321.35 L326.42,319.56 L329.92,317.76 L333.41,315.97" fill="none" stroke="#ff7f0e" stroke-width="0.8" stroke-dasharray="1.3 0.6" stroke-opacity="0.85"/>
<path d="M53.50,563.53 L57.00,558.15 L60.50,552.76 L64.00,547.38 L67.50,542.00 L70.99,536.61 L74.49,531.23 L77.99,525.85 L81.49,520.47 L84.99,515.08 L88.49,509.70 L91.99,504.32 L95.49,498.93 L98.99,493.55 L102.49,488.17 L105.98,482.78 L109.48,477.40 L112.98,472.02 L116.48,466.63 L119.98,461.25 L123.48,455.87 L126.98,450.49 L130.48,445.10 L133.98,439.72 L137.47,434.34 L140.97,428.95 L144.47,423.57 L147.97,418.19 L151.47,412.80 L154.97,407.42 L158.47,402.04 L161.97,396.65 L165.47,391.27 L168.96,385.89 L172.46,380.51 L175.96,375.12 L179.46,369.74 L182.96,364.36 L186.46,358.97 L189.96,353.59 L193.46,348.21 L196.96,342.82 L200.46,337.44 L203.95,332.06 L207.45,326.67 L210.95,321.29 L214.45,315.91 L217.95,310.52 L221.45,305.14 L224.95,299.76 L228.45,294.38 L231.95,288.99 L235.44,283.61 L238.94,278.23 L242.44,272.84 L245.94,267.46 L249.44,262.08 L252.94,256.69 L256.44,251.31 L259.94,245.93 L263.44,240.54 L266.93,235.16 L270.43,229.78 L273.93,224.40 L277.43,219.01 L280.93,213.63 L284.43,208.25 L287.93,202.86 L291.43,197.48 L294.93,192.10 L298.43,186.71 L301.92,181.33 L305.42,175.95 L308.92,170.56 L312.42,165.18 L315.92,159.80 L319.42,154.42 L322.92,149.03 L326.42,143.65 L329.92,138.27 L333.41,132.88" fill="none" stroke="#9a4de8" stroke-width="0.8" stroke-dasharray="1.2 0.6" stroke-opacity="1"/>
<path d="M53.50,447.63 L57.00,442.25 L60.50,436.86 L64.00,431.48 L67.50,426.10 L70.99,420.71 L74.49,415.33 L77.99,409.95 L81.49,404.57 L84.99,399.18 L88.49,393.80 L91.99,388.42 L95.49,383.03 L98.99,377.65 L102.49,372.27 L105.98,366.88 L109.48,361.50 L112.98,356.12 L116.48,350.73 L119.98,345.35 L123.48,339.97 L126.98,334.59 L130.48,329.20 L133.98,323.82 L137.47,318.44 L140.97,313.05 L144.47,307.67 L147.97,302.29 L151.47,296.90 L154.97,291.52 L158.47,286.14 L161.97,280.75 L165.47,275.37 L168.96,269.99 L172.46,264.61 L175.96,259.22 L179.46,253.84 L182.96,248.46 L186.46,243.07 L189.96,237.69 L193.46,232.31 L196.96,226.92 L200.46,221.54 L203.95,216.16 L207.45,210.77 L210.95,205.39 L214.45,200.01 L217.95,194.62 L221.45,189.24 L224.95,183.86 L228.45,178.48 L231.95,173.09 L235.44,167.71 L238.94,162.33 L242.44,156.94 L245.94,151.56 L249.44,146.18 L252.94,140.79 L256.44,135.41 L259.94,130.03 L263.44,124.64 L266.93,119.26 L270.43,113.88 L273.93,108.50 L277.43,103.11 L280.93,97.73 L284.43,92.35 L287.93,86.96 L291.43,81.58 L294.93,76.20 L298.43,70.81 L301.92,65.43 L305.42,60.05 L308.92,54.66 L312.42,49.28 L315.92,43.90 L319.42,38.52 L322.92,33.13 L326.42,27.75 L329.92,22.37 L333.41,16.98" fill="none" stroke="#9a4de8" stroke-width="0.8" stroke-dasharray="1.2 0.6" stroke-opacity="1"/>
<path d="M53.50,331.73 L57.00,326.35 L60.50,320.96 L64.00,315.58 L67.50,310.20 L70.99,304.81 L74.49,299.43 L77.99,294.05 L81.49,288.67 L84.99,283.28 L88.49,277.90 L91.99,272.52 L95.49,267.13 L98.99,261.75 L102.49,256.37 L105.98,250.98 L109.48,245.60 L112.98,240.22 L116.48,234.83 L119.98,229.45 L123.48,224.07 L126.98,218.69 L130.48,213.30 L133.98,207.92 L137.47,202.54 L140.97,197.15 L144.47,191.77 L147.97,186.39 L151.47,181.00 L154.97,175.62 L158.47,170.24 L161.97,164.85 L165.47,159.47 L168.96,154.09 L172.46,148.71 L175.96,143.32 L179.46,137.94 L182.96,132.56 L186.46,127.17 L189.96,121.79 L193.46,116.41 L196.96,111.02 L200.46,105.64 L203.95,100.26 L207.45,94.87 L210.95,89.49 L214.45,84.11 L217.95,78.72 L221.45,73.34 L224.95,67.96 L228.45,62.58 L231.95,57.19 L235.44,51.81 L238.94,46.43 L242.44,41.04 L245.94,35.66 L249.44,30.28 L252.94,24.89 L256.44,19.51 L259.94,14.13 L263.44,8.74 L266.93,3.36 L270.43,-2.02 L273.93,-7.40 L277.43,-12.79 L280.93,-18.17 L284.43,-23.55 L287.93,-28.94 L291.43,-34.32 L294.93,-39.70 L298.43,-45.09 L301.92,-50.47 L305.42,-55.85 L308.92,-61.24 L312.42,-66.62 L315.92,-72.00 L319.42,-77.38 L322.92,-82.77 L326.42,-88.15 L329.92,-93.53 L333.41,-98.92" fill="none" stroke="#9a4de8" stroke-width="0.8" stroke-dasharray="1.2 0.6" stroke-opacity="1"/>
<path d="M53.50,215.83 L57.00,210.45 L60.50,205.06 L64.00,199.68 L67.50,194.30 L70.99,188.91 L74.49,183.53 L77.99,178.15 L81.49,172.77 L84.99,167.38 L88.49,162.00 L91.99,156.62 L95.49,151.23 L98.99,145.85 L102.49,140.47 L105.98,135.08 L109.48,129.70 L112.98,124.32 L116.48,118.93 L119.98,113.55 L123.48,108.17 L126.98,102.79 L130.48,97.40 L133.98,92.02 L137.47,86.64 L140.97,81.25 L144.47,75.87 L147.97,70.49 L151.47,65.10 L154.97,59.72 L158.47,54.34 L161.97,48.95 L165.47,43.57 L168.96,38.19 L172.46,32.81 L175.96,27.42 L179.46,22.04 L182.96,16.66 L186.46,11.27 L189.96,5.89 L193.46,0.51 L196.96,-4.88 L200.46,-10.26 L203.95,-15.64 L207.45,-21.03 L210.95,-26.41 L214.45,-31.79 L217.95,-37.18 L221.45,-42.56 L224.95,-47.94 L228.45,-53.32 L231.95,-58.71 L235.44,-64.09 L238.94,-69.47 L242.44,-74.86 L245.94,-80.24 L249.44,-85.62 L252.94,-91.01 L256.44,-96.39 L259.94,-101.77 L263.44,-107.16 L266.93,-112.54 L270.43,-117.92 L273.93,-123.30 L277.43,-128.69 L280.93,-134.07 L284.43,-139.45 L287.93,-144.84 L291.43,-150.22 L294.93,-155.60 L298.43,-160.99 L301.92,-166.37 L305.42,-171.75 L308.92,-177.14 L312.42,-182.52 L315.92,-187.90 L319.42,-193.28 L322.92,-198.67 L326.42,-204.05 L329.92,-209.43 L333.41,-214.82" fill="none" stroke="#9a4de8" stroke-width="0.8" stroke-dasharray="1.2 0.6" stroke-opacity="1"/>
<path d="M53.50,559.72 L57.00,556.13 L60.50,552.54 L64.00,548.95 L67.50,545.36 L70.99,541.77 L74.49,538.18 L77.99,534.60 L81.49,531.01 L84.99,527.42 L88.49,523.83 L91.99,520.24 L95.49,516.65 L98.99,513.06 L102.49,509.47 L105.98,505.89 L109.48,502.30 L112.98,498.71 L116.48,495.12 L119.98,491.53 L123.48,487.94 L126.98,484.35 L130.48,480.77 L133.98,477.18 L137.47,473.59 L140.97,470.00 L144.47,466.41 L147.97,462.82 L151.47,459.23 L154.97,455.64 L158.47,452.06 L161.97,448.47 L165.47,444.88 L168.96,441.29 L172.46,437.70 L175.96,434.11 L179.46,430.52 L182.96,426.93 L186.46,423.35 L189.96,419.76 L193.46,416.17 L196.96,412.58 L200.46,408.99 L203.95,405.40 L207.45,401.81 L210.95,398.22 L214.45,394.64 L217.95,391.05 L221.45,387.46 L224.95,383.87 L228.45,380.28 L231.95,376.69 L235.44,373.10 L238.94,369.51 L242.44,365.93 L245.94,362.34 L249.44,358.75 L252.94,355.16 L256.44,351.57 L259.94,347.98 L263.44,344.39 L266.93,340.80 L270.43,337.22 L273.93,333.63 L277.43,330.04 L280.93,326.45 L284.43,322.86 L287.93,319.27 L291.43,315.68 L294.93,312.09 L298.43,308.51 L301.92,304.92 L305.42,301.33 L308.92,297.74 L312.42,294.15 L315.92,290.56 L319.42,286.97 L322.92,283.38 L326.42,279.80 L329.92,276.21 L333.41,272.62" fill="none" stroke="#ffa500" stroke-width="1.5" stroke-opacity="1"/>
</g>
<text x="273.2" y="24.2" font-size="8.66" font-weight="bold" fill="#ff0000" textLength="55.5" lengthAdjust="spacingAndGlyphs">SGR 1806-20</text>
<text x="232.2" y="59.5" font-size="8.52" font-weight="bold" fill="#ff0000" textLength="57.3" lengthAdjust="spacingAndGlyphs">SGR 1900+14</text>
<text x="128.2" y="76.0" font-size="8.38" font-weight="bold" fill="#ff0000" textLength="64.5" lengthAdjust="spacingAndGlyphs">1E 1547.0-5408</text>
<text x="270.8" y="78.1" font-size="7.96" font-weight="bold" fill="#ff0000" textLength="52.1" lengthAdjust="spacingAndGlyphs">1E 1841-045</text>
<text x="152.2" y="105.0" font-size="8.52" font-weight="bold" fill="#ff0000" textLength="54.1" lengthAdjust="spacingAndGlyphs">SGR 1627-41</text>
<text x="258.4" y="129.5" font-size="8.94" font-weight="bold" fill="#ff0000" textLength="64.0" lengthAdjust="spacingAndGlyphs">XTE J1810-197</text>
<text x="280.2" y="170.7" font-size="8.24" font-weight="bold" fill="#ff0000" textLength="49.0" lengthAdjust="spacingAndGlyphs">4U 0142+61</text>
<text x="252.1" y="191.4" font-size="8.52" font-weight="bold" fill="#ff0000" textLength="53.6" lengthAdjust="spacingAndGlyphs">1E 2259+586</text>
<text x="272.8" y="292.8" font-size="8.52" font-weight="bold" fill="#ff0000" textLength="56.1" lengthAdjust="spacingAndGlyphs">J1822.3-1606</text>
<text x="262.5" y="336.6" font-size="8.94" font-weight="bold" fill="#ff0000" textLength="67.6" lengthAdjust="spacingAndGlyphs">SGR 0418+5729</text>
<text x="277.8" y="117.5" font-size="5.59" font-weight="bold" fill="#ff0000" textLength="51.3" lengthAdjust="spacingAndGlyphs">1RXS J170849.0-400910</text>
<text x="190.0" y="140.6" font-size="4.75" font-weight="bold" fill="#ff0000" textLength="39.6" lengthAdjust="spacingAndGlyphs">Swift J1834.9-0846</text>
<text x="261.9" y="138.5" font-size="4.61" font-weight="bold" fill="#ff0000" textLength="33.7" lengthAdjust="spacingAndGlyphs">SGR 0501+4516</text>
<text x="272.7" y="152.1" font-size="4.61" font-weight="bold" fill="#ff0000" textLength="32.6" lengthAdjust="spacingAndGlyphs">SGR 1833-0832</text>
<text x="271.4" y="220.0" font-size="5.73" font-weight="bold" fill="#ff0000" textLength="48.7" lengthAdjust="spacingAndGlyphs">CXOU J164710.2-455216</text>
<text x="119.8" y="125.8" font-size="7.82" font-weight="bold" fill="#8b3dd6" textLength="48.0" lengthAdjust="spacingAndGlyphs">J1846-0258</text>
<text x="82.3" y="162.8" font-size="7.82" font-weight="bold" fill="#8b3dd6" textLength="47.3" lengthAdjust="spacingAndGlyphs">J1119-6127</text>
<text x="145.3" y="154.1" font-size="8.10" font-weight="bold" fill="#8b3dd6" textLength="47.6" lengthAdjust="spacingAndGlyphs">J1734-3333</text>
<text x="197.8" y="165.1" font-size="8.10" font-weight="bold" fill="#8b3dd6" textLength="47.8" lengthAdjust="spacingAndGlyphs">J1718-3718</text>
<text x="181.3" y="201.2" font-size="8.38" font-weight="bold" fill="#add8e6" textLength="47.7" lengthAdjust="spacingAndGlyphs">J1819-1458</text>
<text x="187.8" y="263.2" font-size="8.10" font-weight="bold" fill="#ffa500" textLength="71.0" lengthAdjust="spacingAndGlyphs">RX J1856.5-3754</text>
<text x="289.9" y="265.6" font-size="5.31" font-weight="bold" fill="#ffa500" textLength="35.8" lengthAdjust="spacingAndGlyphs">RX J0806.4-4123</text>
<rect x="56.8" y="11.5" width="59.0" height="81.9" rx="1.5" fill="#fff" fill-opacity="0.82" stroke="#d0d0d0" stroke-width="0.7"/>
<circle cx="66.2" cy="16.9" r="3.9" fill="none" stroke="#2ca02c" stroke-width="1.2"/>
<text x="73.2" y="19.4" font-size="6.9" fill="#222" textLength="14.0" lengthAdjust="spacingAndGlyphs">SNR</text>
<rect x="63.0" y="23.8" width="6.4" height="6.4" fill="none" stroke="#3f8fd0" stroke-width="0.9"/>
<text x="73.2" y="29.5" font-size="6.9" fill="#222" textLength="21.9" lengthAdjust="spacingAndGlyphs">Binary</text>
<circle cx="66.2" cy="37.0" r="1.3" fill="#6a6a6a"/>
<text x="73.2" y="39.5" font-size="6.9" fill="#222" textLength="20.9" lengthAdjust="spacingAndGlyphs">Pulsar</text>
<circle cx="66.2" cy="47.1" r="3.4" fill="#ff0000" stroke="#000" stroke-width="0.9"/>
<text x="73.2" y="49.6" font-size="6.9" fill="#222" textLength="32.3" lengthAdjust="spacingAndGlyphs">Magnetar</text>
<polygon points="66.20,53.18 70.29,56.15 68.73,60.96 63.67,60.96 62.11,56.15" fill="#f0a30a" stroke="#000" stroke-width="0.8"/>
<text x="73.2" y="59.7" font-size="6.9" fill="#222" textLength="15.7" lengthAdjust="spacingAndGlyphs">XINS</text>
<rect x="62.7" y="63.8" width="7" height="7" fill="#0000ff" stroke="#000" stroke-width="0.9"/>
<text x="73.2" y="69.8" font-size="6.9" fill="#222" textLength="14.7" lengthAdjust="spacingAndGlyphs">CCO</text>
<path d="M66.2,72.7 L70.8,77.3 L66.2,81.9 L61.6,77.3Z" fill="#8b3dd6" stroke="#000" stroke-width="0.8"/>
<text x="73.2" y="79.8" font-size="6.9" fill="#222" textLength="39.5" lengthAdjust="spacingAndGlyphs">HBP (X-ray)</text>
<path d="M66.2,83.9 L70.4,91.0 L62.0,91.0Z" fill="#add8e6" stroke="#000" stroke-width="0.95" stroke-linejoin="miter"/>
<text x="73.2" y="89.9" font-size="6.9" fill="#222" textLength="18.0" lengthAdjust="spacingAndGlyphs">RRAT</text>
<path d="M53.50,355.2 L53.50,352.4 M53.50,7.5 L53.50,10.3 M87.52,355.2 L87.52,353.59999999999997 M87.52,7.5 L87.52,9.1 M107.41,355.2 L107.41,353.59999999999997 M107.41,7.5 L107.41,9.1 M121.53,355.2 L121.53,353.59999999999997 M121.53,7.5 L121.53,9.1 M132.48,355.2 L132.48,353.59999999999997 M132.48,7.5 L132.48,9.1 M141.43,355.2 L141.43,353.59999999999997 M141.43,7.5 L141.43,9.1 M149.00,355.2 L149.00,353.59999999999997 M149.00,7.5 L149.00,9.1 M155.55,355.2 L155.55,353.59999999999997 M155.55,7.5 L155.55,9.1 M161.33,355.2 L161.33,353.59999999999997 M161.33,7.5 L161.33,9.1 M166.50,355.2 L166.50,352.4 M166.50,7.5 L166.50,10.3 M200.52,355.2 L200.52,353.59999999999997 M200.52,7.5 L200.52,9.1 M220.41,355.2 L220.41,353.59999999999997 M220.41,7.5 L220.41,9.1 M234.53,355.2 L234.53,353.59999999999997 M234.53,7.5 L234.53,9.1 M245.48,355.2 L245.48,353.59999999999997 M245.48,7.5 L245.48,9.1 M254.43,355.2 L254.43,353.59999999999997 M254.43,7.5 L254.43,9.1 M262.00,355.2 L262.00,353.59999999999997 M262.00,7.5 L262.00,9.1 M268.55,355.2 L268.55,353.59999999999997 M268.55,7.5 L268.55,9.1 M274.33,355.2 L274.33,353.59999999999997 M274.33,7.5 L274.33,9.1 M279.50,355.2 L279.50,352.4 M279.50,7.5 L279.50,10.3 M313.52,355.2 L313.52,353.59999999999997 M313.52,7.5 L313.52,9.1 M333.41,355.2 L333.41,353.59999999999997 M333.41,7.5 L333.41,9.1 M53.5,355.20 L56.3,355.20 M333.4,355.20 L330.59999999999997,355.20 M53.5,337.76 L55.1,337.76 M333.4,337.76 L331.79999999999995,337.76 M53.5,327.55 L55.1,327.55 M333.4,327.55 L331.79999999999995,327.55 M53.5,320.31 L55.1,320.31 M333.4,320.31 L331.79999999999995,320.31 M53.5,314.69 L55.1,314.69 M333.4,314.69 L331.79999999999995,314.69 M53.5,310.11 L55.1,310.11 M333.4,310.11 L331.79999999999995,310.11 M53.5,306.23 L55.1,306.23 M333.4,306.23 L331.79999999999995,306.23 M53.5,302.87 L55.1,302.87 M333.4,302.87 L331.79999999999995,302.87 M53.5,299.90 L55.1,299.90 M333.4,299.90 L331.79999999999995,299.90 M53.5,297.25 L56.3,297.25 M333.4,297.25 L330.59999999999997,297.25 M53.5,279.81 L55.1,279.81 M333.4,279.81 L331.79999999999995,279.81 M53.5,269.60 L55.1,269.60 M333.4,269.60 L331.79999999999995,269.60 M53.5,262.36 L55.1,262.36 M333.4,262.36 L331.79999999999995,262.36 M53.5,256.74 L55.1,256.74 M333.4,256.74 L331.79999999999995,256.74 M53.5,252.16 L55.1,252.16 M333.4,252.16 L331.79999999999995,252.16 M53.5,248.28 L55.1,248.28 M333.4,248.28 L331.79999999999995,248.28 M53.5,244.92 L55.1,244.92 M333.4,244.92 L331.79999999999995,244.92 M53.5,241.95 L55.1,241.95 M333.4,241.95 L331.79999999999995,241.95 M53.5,239.30 L56.3,239.30 M333.4,239.30 L330.59999999999997,239.30 M53.5,221.86 L55.1,221.86 M333.4,221.86 L331.79999999999995,221.86 M53.5,211.65 L55.1,211.65 M333.4,211.65 L331.79999999999995,211.65 M53.5,204.41 L55.1,204.41 M333.4,204.41 L331.79999999999995,204.41 M53.5,198.79 L55.1,198.79 M333.4,198.79 L331.79999999999995,198.79 M53.5,194.21 L55.1,194.21 M333.4,194.21 L331.79999999999995,194.21 M53.5,190.33 L55.1,190.33 M333.4,190.33 L331.79999999999995,190.33 M53.5,186.97 L55.1,186.97 M333.4,186.97 L331.79999999999995,186.97 M53.5,184.00 L55.1,184.00 M333.4,184.00 L331.79999999999995,184.00 M53.5,181.35 L56.3,181.35 M333.4,181.35 L330.59999999999997,181.35 M53.5,163.91 L55.1,163.91 M333.4,163.91 L331.79999999999995,163.91 M53.5,153.70 L55.1,153.70 M333.4,153.70 L331.79999999999995,153.70 M53.5,146.46 L55.1,146.46 M333.4,146.46 L331.79999999999995,146.46 M53.5,140.84 L55.1,140.84 M333.4,140.84 L331.79999999999995,140.84 M53.5,136.26 L55.1,136.26 M333.4,136.26 L331.79999999999995,136.26 M53.5,132.38 L55.1,132.38 M333.4,132.38 L331.79999999999995,132.38 M53.5,129.02 L55.1,129.02 M333.4,129.02 L331.79999999999995,129.02 M53.5,126.05 L55.1,126.05 M333.4,126.05 L331.79999999999995,126.05 M53.5,123.40 L56.3,123.40 M333.4,123.40 L330.59999999999997,123.40 M53.5,105.96 L55.1,105.96 M333.4,105.96 L331.79999999999995,105.96 M53.5,95.75 L55.1,95.75 M333.4,95.75 L331.79999999999995,95.75 M53.5,88.51 L55.1,88.51 M333.4,88.51 L331.79999999999995,88.51 M53.5,82.89 L55.1,82.89 M333.4,82.89 L331.79999999999995,82.89 M53.5,78.31 L55.1,78.31 M333.4,78.31 L331.79999999999995,78.31 M53.5,74.43 L55.1,74.43 M333.4,74.43 L331.79999999999995,74.43 M53.5,71.07 L55.1,71.07 M333.4,71.07 L331.79999999999995,71.07 M53.5,68.10 L55.1,68.10 M333.4,68.10 L331.79999999999995,68.10 M53.5,65.45 L56.3,65.45 M333.4,65.45 L330.59999999999997,65.45 M53.5,48.01 L55.1,48.01 M333.4,48.01 L331.79999999999995,48.01 M53.5,37.80 L55.1,37.80 M333.4,37.80 L331.79999999999995,37.80 M53.5,30.56 L55.1,30.56 M333.4,30.56 L331.79999999999995,30.56 M53.5,24.94 L55.1,24.94 M333.4,24.94 L331.79999999999995,24.94 M53.5,20.36 L55.1,20.36 M333.4,20.36 L331.79999999999995,20.36 M53.5,16.48 L55.1,16.48 M333.4,16.48 L331.79999999999995,16.48 M53.5,13.12 L55.1,13.12 M333.4,13.12 L331.79999999999995,13.12 M53.5,10.15 L55.1,10.15 M333.4,10.15 L331.79999999999995,10.15 M53.5,7.50 L56.3,7.50 M333.4,7.50 L330.59999999999997,7.50" stroke="#333" stroke-width="0.6" fill="none"/>
<rect x="53.5" y="7.5" width="279.90" height="347.70" fill="none" stroke="#4a4a4a" stroke-width="0.9"/>
<g fill="#111"><text x="35.30" y="355.70" font-size="6.8" textLength="14.2" lengthAdjust="spacingAndGlyphs">−15</text><text x="23.10" y="359.10" font-size="10" textLength="11.3" lengthAdjust="spacingAndGlyphs">10</text><text x="35.30" y="297.75" font-size="6.8" textLength="14.2" lengthAdjust="spacingAndGlyphs">−14</text><text x="23.10" y="301.15" font-size="10" textLength="11.3" lengthAdjust="spacingAndGlyphs">10</text><text x="35.30" y="239.80" font-size="6.8" textLength="14.2" lengthAdjust="spacingAndGlyphs">−13</text><text x="23.10" y="243.20" font-size="10" textLength="11.3" lengthAdjust="spacingAndGlyphs">10</text><text x="35.30" y="181.85" font-size="6.8" textLength="14.2" lengthAdjust="spacingAndGlyphs">−12</text><text x="23.10" y="185.25" font-size="10" textLength="11.3" lengthAdjust="spacingAndGlyphs">10</text><text x="35.30" y="123.90" font-size="6.8" textLength="14.2" lengthAdjust="spacingAndGlyphs">−11</text><text x="23.10" y="127.30" font-size="10" textLength="11.3" lengthAdjust="spacingAndGlyphs">10</text><text x="35.30" y="65.95" font-size="6.8" textLength="14.2" lengthAdjust="spacingAndGlyphs">−10</text><text x="23.10" y="69.35" font-size="10" textLength="11.3" lengthAdjust="spacingAndGlyphs">10</text><text x="39.80" y="8.00" font-size="6.8" textLength="9.7" lengthAdjust="spacingAndGlyphs">−9</text><text x="27.60" y="11.40" font-size="10" textLength="11.3" lengthAdjust="spacingAndGlyphs">10</text><text x="42.85" y="365.5" font-size="10" textLength="11.3" lengthAdjust="spacingAndGlyphs">10</text><text x="55.05" y="361.8" font-size="6.8" textLength="9.1" lengthAdjust="spacingAndGlyphs">−1</text><text x="158.20" y="365.5" font-size="10" textLength="11.3" lengthAdjust="spacingAndGlyphs">10</text><text x="170.40" y="361.8" font-size="6.8" textLength="4.4" lengthAdjust="spacingAndGlyphs">0</text><text x="271.20" y="365.5" font-size="10" textLength="11.3" lengthAdjust="spacingAndGlyphs">10</text><text x="283.40" y="361.8" font-size="6.8" textLength="4.4" lengthAdjust="spacingAndGlyphs">1</text></g>
<text x="165.3" y="382.4" font-size="11.8" fill="#111" textLength="55.4" lengthAdjust="spacingAndGlyphs">Period (s)</text>
<g transform="translate(13.6,252.7) rotate(-90)" fill="#111"><text x="0" y="0" font-size="11.4" textLength="124.6" lengthAdjust="spacingAndGlyphs">Period Derivative (s s</text><text x="126.9" y="-4.1" font-size="8" textLength="10.2" lengthAdjust="spacingAndGlyphs">−1</text><text x="138.4" y="0" font-size="11.4">)</text></g>
</svg></body></html>
